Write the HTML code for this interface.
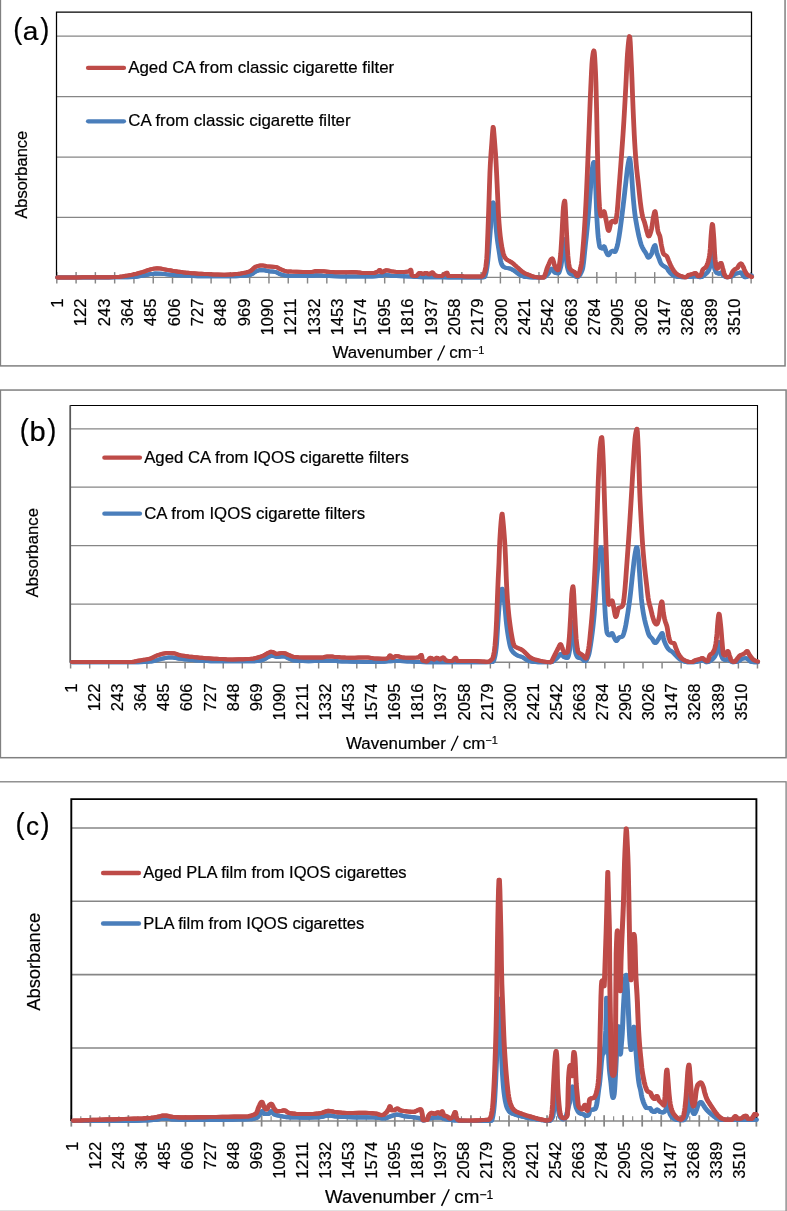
<!DOCTYPE html>
<html><head><meta charset="utf-8"><title>FTIR spectra</title>
<style>
html,body{margin:0;padding:0;background:#fff;}
svg{display:block;will-change:transform;}
text{font-family:"Liberation Sans",sans-serif;fill:#000;stroke:#000;stroke-width:0.2px;}
</style></head>
<body>
<svg width="787" height="1211" viewBox="0 0 787 1211">

<rect x="0.40" y="-5.00" width="784.65" height="370.90" fill="#fff" stroke="#808080" stroke-width="1.50"/>
<line x1="56.50" x2="751.50" y1="36.20" y2="36.20" stroke="#868686" stroke-width="1.25"/>
<line x1="56.50" x2="751.50" y1="96.60" y2="96.60" stroke="#868686" stroke-width="1.25"/>
<line x1="56.50" x2="751.50" y1="157.00" y2="157.00" stroke="#868686" stroke-width="1.25"/>
<line x1="56.50" x2="751.50" y1="217.30" y2="217.30" stroke="#868686" stroke-width="1.25"/>
<line x1="56.50" x2="751.50" y1="277.40" y2="277.40" stroke="#868686" stroke-width="1.35"/>
<line x1="56.80" x2="56.80" y1="272.10" y2="283.50" stroke="#868686" stroke-width="1.45"/>
<line x1="76.09" x2="76.09" y1="272.10" y2="283.50" stroke="#868686" stroke-width="1.45"/>
<line x1="95.37" x2="95.37" y1="272.10" y2="283.50" stroke="#868686" stroke-width="1.45"/>
<line x1="114.66" x2="114.66" y1="272.10" y2="283.50" stroke="#868686" stroke-width="1.45"/>
<line x1="133.95" x2="133.95" y1="272.10" y2="283.50" stroke="#868686" stroke-width="1.45"/>
<line x1="153.24" x2="153.24" y1="272.10" y2="283.50" stroke="#868686" stroke-width="1.45"/>
<line x1="172.52" x2="172.52" y1="272.10" y2="283.50" stroke="#868686" stroke-width="1.45"/>
<line x1="191.81" x2="191.81" y1="272.10" y2="283.50" stroke="#868686" stroke-width="1.45"/>
<line x1="211.10" x2="211.10" y1="272.10" y2="283.50" stroke="#868686" stroke-width="1.45"/>
<line x1="230.38" x2="230.38" y1="272.10" y2="283.50" stroke="#868686" stroke-width="1.45"/>
<line x1="249.67" x2="249.67" y1="272.10" y2="283.50" stroke="#868686" stroke-width="1.45"/>
<line x1="268.96" x2="268.96" y1="272.10" y2="283.50" stroke="#868686" stroke-width="1.45"/>
<line x1="288.24" x2="288.24" y1="272.10" y2="283.50" stroke="#868686" stroke-width="1.45"/>
<line x1="307.53" x2="307.53" y1="272.10" y2="283.50" stroke="#868686" stroke-width="1.45"/>
<line x1="326.82" x2="326.82" y1="272.10" y2="283.50" stroke="#868686" stroke-width="1.45"/>
<line x1="346.11" x2="346.11" y1="272.10" y2="283.50" stroke="#868686" stroke-width="1.45"/>
<line x1="365.39" x2="365.39" y1="272.10" y2="283.50" stroke="#868686" stroke-width="1.45"/>
<line x1="384.68" x2="384.68" y1="272.10" y2="283.50" stroke="#868686" stroke-width="1.45"/>
<line x1="403.97" x2="403.97" y1="272.10" y2="283.50" stroke="#868686" stroke-width="1.45"/>
<line x1="423.25" x2="423.25" y1="272.10" y2="283.50" stroke="#868686" stroke-width="1.45"/>
<line x1="442.54" x2="442.54" y1="272.10" y2="283.50" stroke="#868686" stroke-width="1.45"/>
<line x1="461.83" x2="461.83" y1="272.10" y2="283.50" stroke="#868686" stroke-width="1.45"/>
<line x1="481.11" x2="481.11" y1="272.10" y2="283.50" stroke="#868686" stroke-width="1.45"/>
<line x1="500.40" x2="500.40" y1="272.10" y2="283.50" stroke="#868686" stroke-width="1.45"/>
<line x1="519.69" x2="519.69" y1="272.10" y2="283.50" stroke="#868686" stroke-width="1.45"/>
<line x1="538.97" x2="538.97" y1="272.10" y2="283.50" stroke="#868686" stroke-width="1.45"/>
<line x1="558.26" x2="558.26" y1="272.10" y2="283.50" stroke="#868686" stroke-width="1.45"/>
<line x1="577.55" x2="577.55" y1="272.10" y2="283.50" stroke="#868686" stroke-width="1.45"/>
<line x1="596.84" x2="596.84" y1="272.10" y2="283.50" stroke="#868686" stroke-width="1.45"/>
<line x1="616.12" x2="616.12" y1="272.10" y2="283.50" stroke="#868686" stroke-width="1.45"/>
<line x1="635.41" x2="635.41" y1="272.10" y2="283.50" stroke="#868686" stroke-width="1.45"/>
<line x1="654.70" x2="654.70" y1="272.10" y2="283.50" stroke="#868686" stroke-width="1.45"/>
<line x1="673.98" x2="673.98" y1="272.10" y2="283.50" stroke="#868686" stroke-width="1.45"/>
<line x1="693.27" x2="693.27" y1="272.10" y2="283.50" stroke="#868686" stroke-width="1.45"/>
<line x1="712.56" x2="712.56" y1="272.10" y2="283.50" stroke="#868686" stroke-width="1.45"/>
<line x1="731.84" x2="731.84" y1="272.10" y2="283.50" stroke="#868686" stroke-width="1.45"/>
<line x1="751.13" x2="751.13" y1="272.10" y2="283.50" stroke="#868686" stroke-width="1.45"/>
<path d="M56.50,277.40 L56.50,12.00 L751.50,12.00 L751.50,277.40" fill="none" stroke="#000" stroke-width="1.25"/>
<g fill="none" stroke="#4A7EBB" stroke-width="4.00" stroke-linejoin="round" stroke-linecap="round"><path id="ablue" d="M57.5,277.4 L63.9,277.4 L70.3,277.4 L76.7,277.4 L83.1,277.4 L89.5,277.4 L95.9,277.4 L102.3,277.4 L108.7,277.4 L115.1,277.3 L121.5,277.3 L127.9,277.3 L133.9,277.1 L135.5,276.9 L136.7,276.8 L137.9,276.6 L139.1,276.4 L140.3,276.1 L141.5,275.9 L142.7,275.7 L143.5,275.6 L144.3,275.4 L145.1,275.2 L145.9,275.0 L146.7,274.8 L147.5,274.7 L148.3,274.5 L149.1,274.3 L150.3,274.1 L151.9,273.9 L153.5,273.8 L155.1,273.6 L161.5,273.7 L163.1,273.9 L164.7,274.1 L166.3,274.3 L168.3,274.5 L170.3,274.7 L172.3,274.8 L174.3,275.0 L176.3,275.2 L178.7,275.3 L181.1,275.5 L183.9,275.6 L186.7,275.8 L189.5,275.9 L192.7,276.1 L197.5,276.3 L203.9,276.3 L210.3,276.3 L216.7,276.3 L223.1,276.3 L229.5,276.3 L235.9,276.2 L239.9,276.0 L242.7,275.8 L244.7,275.7 L246.3,275.5 L247.5,275.3 L248.7,275.1 L249.9,274.9 L250.7,274.7 L251.1,274.5 L251.5,274.3 L251.9,274.1 L252.3,273.8 L252.7,273.6 L253.1,273.3 L253.5,273.0 L253.9,272.7 L254.3,272.4 L254.7,272.2 L255.1,271.9 L255.5,271.7 L255.9,271.5 L256.3,271.3 L256.7,271.1 L257.1,271.0 L257.5,270.8 L257.9,270.7 L258.7,270.4 L259.5,270.2 L260.3,270.0 L263.9,270.2 L264.7,270.3 L265.5,270.5 L266.3,270.7 L267.1,270.9 L267.9,271.0 L269.1,271.2 L270.7,271.4 L272.3,271.5 L273.9,271.7 L275.1,271.9 L275.9,272.1 L276.3,272.2 L276.7,272.4 L277.1,272.6 L277.5,272.8 L277.9,273.0 L278.3,273.3 L278.7,273.5 L279.1,273.7 L279.5,273.9 L279.9,274.1 L280.3,274.3 L281.1,274.5 L281.9,274.7 L282.7,274.9 L283.5,275.1 L284.3,275.3 L285.1,275.4 L286.3,275.6 L287.9,275.8 L294.3,275.9 L300.7,276.0 L307.1,276.0 L313.1,275.8 L313.9,275.7 L314.7,275.5 L315.9,275.3 L320.7,275.5 L321.9,275.6 L323.1,275.8 L324.7,276.0 L329.1,276.1 L334.7,276.3 L341.1,276.4 L347.5,276.5 L353.9,276.6 L360.3,276.6 L366.7,276.6 L372.3,276.4 L375.9,276.2 L378.7,276.1 L381.1,275.9 L381.9,275.7 L382.7,275.5 L383.5,275.3 L384.3,275.1 L385.1,274.9 L388.7,275.2 L389.5,275.4 L390.3,275.6 L391.1,275.8 L392.3,276.0 L396.3,276.1 L402.7,276.3 L409.1,276.4 L411.5,276.6 L413.5,276.8 L415.1,276.9 L417.1,277.1 L423.5,277.2 L429.9,277.3 L436.3,277.3 L442.7,277.3 L449.1,277.4 L455.5,277.4 L461.9,277.4 L468.3,277.4 L474.7,277.4 L481.1,277.4 L483.9,277.3 L484.3,277.1 L484.7,276.8 L485.1,275.9 L485.5,274.5 L485.9,273.0 L486.3,271.2 L486.7,269.0 L487.1,266.4 L487.5,263.5 L487.9,260.1 L488.3,255.9 L488.7,251.1 L489.1,245.9 L489.5,240.8 L489.9,235.9 L490.3,230.7 L490.7,225.6 L491.1,220.7 L491.5,216.2 L491.9,212.1 L492.3,208.4 L492.7,205.2 L493.1,202.5 L493.5,203.1 L493.9,206.0 L494.3,209.3 L494.7,213.3 L495.1,217.3 L495.5,221.3 L495.9,225.5 L496.3,229.7 L496.7,233.8 L497.1,237.5 L497.5,240.8 L497.9,243.7 L498.3,246.3 L498.7,248.8 L499.1,251.3 L499.5,253.8 L499.9,256.4 L500.3,259.0 L500.7,260.9 L501.1,262.5 L501.5,263.8 L501.9,264.7 L502.3,265.4 L502.7,266.0 L503.1,266.5 L503.5,266.8 L503.9,267.0 L504.3,267.2 L504.7,267.4 L505.5,267.7 L506.3,267.9 L507.5,268.1 L508.7,268.3 L509.5,268.4 L510.3,268.7 L510.7,268.8 L511.1,269.0 L511.5,269.2 L511.9,269.4 L512.3,269.6 L512.7,269.8 L513.1,270.1 L513.5,270.3 L513.9,270.5 L514.3,270.8 L514.7,271.1 L515.1,271.4 L515.5,271.7 L515.9,272.0 L516.3,272.3 L516.7,272.6 L517.1,272.8 L517.5,273.1 L517.9,273.4 L518.3,273.8 L518.7,274.1 L519.1,274.4 L519.5,274.7 L519.9,274.9 L520.3,275.2 L520.7,275.3 L521.1,275.5 L521.5,275.7 L521.9,275.9 L522.3,276.0 L522.7,276.2 L523.5,276.5 L524.3,276.7 L525.1,276.9 L526.7,277.1 L529.1,277.2 L533.1,277.4 L539.5,277.4 L544.3,277.2 L544.7,277.0 L545.1,276.8 L545.5,276.5 L545.9,276.1 L546.3,275.7 L546.7,275.3 L547.1,274.9 L547.5,274.5 L547.9,274.1 L548.3,273.6 L548.7,273.0 L549.1,272.3 L549.5,271.6 L549.9,270.8 L550.3,270.1 L550.7,269.5 L551.1,269.1 L551.5,268.8 L551.9,268.7 L552.3,268.9 L552.7,269.4 L553.1,270.0 L553.5,270.8 L553.9,271.4 L554.3,272.1 L554.7,272.5 L555.1,272.7 L555.5,272.8 L556.3,273.1 L557.1,273.3 L558.3,273.3 L558.7,272.9 L559.1,272.2 L559.5,271.2 L559.9,269.9 L560.3,268.5 L560.7,266.9 L561.1,265.2 L561.5,262.7 L561.9,258.6 L562.3,253.9 L562.7,249.8 L563.1,246.7 L563.5,243.5 L563.9,240.8 L564.3,239.2 L564.7,239.5 L565.1,243.2 L565.5,248.9 L565.9,254.7 L566.3,258.9 L566.7,262.3 L567.1,265.3 L567.5,267.6 L567.9,269.1 L568.3,270.4 L568.7,271.5 L569.1,272.4 L569.5,273.1 L569.9,273.5 L570.3,273.8 L570.7,274.0 L571.1,274.2 L571.5,274.3 L572.3,274.6 L572.7,274.8 L573.1,274.9 L573.5,275.2 L573.9,275.4 L574.3,275.6 L574.7,275.9 L575.1,276.1 L575.5,276.4 L575.9,276.6 L576.3,276.8 L577.1,277.0 L577.9,276.9 L578.3,276.7 L578.7,276.4 L579.1,276.0 L579.5,275.5 L579.9,274.9 L580.3,274.2 L580.7,273.4 L581.1,272.6 L581.5,271.7 L581.9,270.7 L582.3,269.7 L582.7,268.2 L583.1,265.8 L583.5,262.9 L583.9,259.4 L584.3,255.6 L584.7,251.6 L585.1,247.7 L585.5,243.9 L585.9,240.3 L586.3,236.7 L586.7,232.9 L587.1,229.0 L587.5,224.9 L587.9,220.7 L588.3,216.2 L588.7,211.4 L589.1,206.5 L589.5,201.4 L589.9,196.4 L590.3,191.3 L590.7,185.8 L591.1,180.2 L591.5,175.3 L591.9,171.6 L592.3,168.8 L592.7,166.2 L593.1,164.0 L593.5,162.6 L593.9,162.0 L594.3,163.9 L594.7,168.8 L595.1,175.7 L595.5,183.4 L595.9,191.7 L596.3,203.2 L596.7,214.1 L597.1,221.6 L597.5,228.1 L597.9,233.5 L598.3,237.7 L598.7,240.7 L599.1,243.5 L599.5,245.7 L599.9,247.1 L600.3,247.6 L600.7,247.9 L601.1,248.1 L601.5,248.3 L602.3,248.5 L602.7,248.3 L603.1,247.5 L603.5,246.7 L603.9,246.3 L604.3,246.6 L604.7,247.5 L605.1,248.7 L605.5,250.0 L605.9,251.2 L606.3,252.1 L606.7,252.9 L607.1,253.7 L607.5,254.4 L607.9,254.9 L608.3,255.2 L608.7,255.1 L609.1,254.6 L609.5,253.9 L609.9,253.2 L610.3,252.5 L610.7,252.0 L611.1,251.7 L611.5,251.4 L611.9,251.2 L612.3,251.0 L613.1,250.8 L613.5,251.0 L613.9,251.3 L614.3,251.7 L614.7,251.9 L615.1,251.8 L615.5,251.2 L615.9,250.3 L616.3,249.2 L616.7,248.0 L617.1,246.7 L617.5,245.1 L617.9,243.2 L618.3,241.0 L618.7,238.7 L619.1,236.3 L619.5,233.8 L619.9,231.1 L620.3,228.2 L620.7,225.3 L621.1,222.2 L621.5,219.2 L621.9,216.0 L622.3,212.8 L622.7,209.5 L623.1,206.2 L623.5,202.8 L623.9,199.4 L624.3,195.9 L624.7,192.4 L625.1,188.8 L625.5,185.4 L625.9,182.0 L626.3,178.4 L626.7,174.8 L627.1,171.3 L627.5,168.1 L627.9,165.5 L628.3,163.2 L628.7,161.0 L629.1,159.2 L629.5,158.2 L629.9,158.9 L630.3,161.5 L630.7,165.3 L631.1,169.5 L631.5,173.8 L631.9,179.1 L632.3,185.0 L632.7,190.9 L633.1,196.1 L633.5,200.6 L633.9,204.9 L634.3,208.9 L634.7,212.4 L635.1,215.5 L635.5,218.2 L635.9,220.6 L636.3,222.9 L636.7,225.1 L637.1,227.3 L637.5,229.4 L637.9,231.4 L638.3,233.4 L638.7,235.2 L639.1,237.0 L639.5,238.6 L639.9,240.2 L640.3,241.7 L640.7,243.1 L641.1,244.4 L641.5,245.5 L641.9,246.4 L642.3,247.3 L642.7,248.1 L643.1,248.8 L643.5,249.5 L643.9,250.2 L644.3,250.8 L644.7,251.4 L645.1,252.0 L645.5,252.5 L645.9,253.2 L646.3,253.9 L646.7,254.8 L647.1,255.7 L647.5,256.5 L647.9,257.1 L648.3,257.5 L648.7,257.5 L649.1,257.3 L649.5,257.0 L649.9,256.5 L650.3,255.9 L650.7,255.3 L651.1,254.6 L651.5,253.9 L651.9,252.9 L652.3,251.6 L652.7,250.1 L653.1,248.7 L653.5,247.6 L653.9,246.8 L654.3,245.9 L654.7,245.4 L655.1,245.3 L655.5,246.6 L655.9,248.8 L656.3,251.1 L656.7,252.6 L657.1,253.7 L657.5,254.8 L657.9,255.8 L658.3,256.8 L658.7,257.8 L659.1,258.8 L659.5,259.9 L659.9,261.0 L660.3,262.0 L660.7,262.9 L661.1,263.7 L661.5,264.2 L661.9,264.6 L662.3,265.0 L662.7,265.3 L663.1,265.6 L663.5,265.9 L663.9,266.1 L664.3,266.4 L664.7,266.7 L665.1,266.9 L665.5,267.1 L665.9,267.4 L666.3,267.6 L666.7,267.9 L667.1,268.3 L667.5,268.9 L667.9,269.6 L668.3,270.4 L668.7,271.1 L669.1,271.6 L669.5,272.1 L669.9,272.6 L670.3,273.0 L670.7,273.4 L671.1,273.8 L671.5,274.2 L671.9,274.5 L672.3,274.8 L672.7,275.1 L673.1,275.3 L673.5,275.5 L673.9,275.7 L674.3,275.9 L674.7,276.0 L675.1,276.2 L675.5,276.4 L676.3,276.6 L677.1,276.8 L678.3,277.0 L679.9,277.1 L682.7,277.3 L687.9,277.1 L689.9,276.9 L691.5,276.8 L692.7,276.5 L693.9,276.3 L697.5,276.6 L698.3,276.8 L699.1,277.1 L699.9,277.2 L701.5,277.1 L701.9,276.9 L702.3,276.6 L702.7,276.4 L703.1,276.0 L703.5,275.7 L703.9,275.4 L704.3,275.1 L704.7,274.8 L705.1,274.5 L705.5,274.2 L705.9,273.8 L706.3,273.5 L706.7,273.1 L707.1,272.7 L707.5,272.2 L707.9,271.6 L708.3,271.0 L708.7,270.2 L709.1,269.2 L709.5,268.0 L709.9,266.7 L710.3,265.1 L710.7,263.5 L711.1,261.0 L711.5,257.5 L711.9,254.4 L712.3,252.6 L712.7,253.2 L713.1,255.9 L713.5,259.7 L713.9,263.8 L714.3,267.1 L714.7,268.9 L715.1,270.0 L715.5,270.9 L715.9,271.7 L716.3,272.4 L716.7,272.8 L717.1,273.1 L717.5,273.3 L718.3,273.5 L719.1,273.7 L719.9,273.6 L720.3,273.3 L720.7,272.9 L721.1,272.5 L721.5,272.4 L721.9,272.7 L722.3,273.5 L722.7,274.4 L723.1,275.2 L723.5,275.7 L723.9,276.0 L724.3,276.2 L724.7,276.5 L725.1,276.7 L725.5,276.9 L725.9,277.0 L726.7,277.2 L729.5,277.0 L730.3,276.8 L731.1,276.6 L731.9,276.3 L732.3,276.2 L732.7,276.0 L733.1,275.7 L733.5,275.3 L733.9,274.9 L734.3,274.5 L734.7,274.2 L735.1,273.9 L735.5,273.7 L736.3,273.5 L737.5,273.3 L738.7,273.1 L739.1,273.0 L739.5,272.8 L739.9,272.7 L740.7,272.4 L741.1,272.4 L741.5,272.8 L741.9,273.4 L742.3,274.2 L742.7,275.0 L743.1,275.6 L743.5,276.1 L743.9,276.5 L744.3,276.9 L744.7,277.2 L746.7,276.9 L747.1,276.7 L747.5,276.6 L747.9,276.4 L748.3,276.3 L748.7,276.1 L749.1,275.9 L749.9,275.7 L751.6,275.6" transform="translate(-0.4,0)"/><use href="#ablue" x="0.8"/></g>
<g fill="none" stroke="#BE4B48" stroke-width="4.00" stroke-linejoin="round" stroke-linecap="round"><path id="ared" d="M57.5,277.4 L63.9,277.4 L70.3,277.4 L76.7,277.4 L83.1,277.3 L89.5,277.3 L95.9,277.3 L102.3,277.2 L108.7,277.2 L115.1,277.1 L117.9,276.9 L119.5,276.8 L121.1,276.6 L122.3,276.4 L123.5,276.2 L124.7,276.0 L125.9,275.8 L127.1,275.6 L128.3,275.4 L129.5,275.2 L130.7,275.0 L131.9,274.8 L132.7,274.6 L133.5,274.4 L134.3,274.2 L135.1,274.1 L135.9,273.9 L136.7,273.7 L137.5,273.4 L138.3,273.2 L139.1,273.0 L139.9,272.8 L140.7,272.6 L141.5,272.3 L142.3,272.1 L143.1,271.9 L143.9,271.6 L144.7,271.3 L145.5,271.0 L146.3,270.7 L147.1,270.5 L147.9,270.2 L148.7,269.9 L149.5,269.7 L150.3,269.5 L151.1,269.3 L151.9,269.1 L152.7,268.9 L153.5,268.7 L154.3,268.6 L155.5,268.4 L157.1,268.2 L159.9,268.4 L160.7,268.6 L161.5,268.7 L162.3,268.9 L163.1,269.1 L163.9,269.3 L165.1,269.5 L166.3,269.7 L167.5,269.9 L168.7,270.1 L169.9,270.3 L171.1,270.5 L172.3,270.8 L173.5,270.9 L174.7,271.1 L175.9,271.3 L177.1,271.5 L178.3,271.7 L179.5,271.8 L180.7,272.0 L181.9,272.1 L183.1,272.3 L184.7,272.5 L186.3,272.7 L187.9,272.8 L189.9,273.0 L191.9,273.2 L193.9,273.3 L196.3,273.5 L198.7,273.7 L201.5,273.8 L204.3,274.0 L207.5,274.1 L210.7,274.3 L213.9,274.5 L217.9,274.6 L224.3,274.7 L229.1,274.5 L231.9,274.4 L233.9,274.2 L235.9,274.0 L237.5,273.9 L239.1,273.7 L240.7,273.5 L241.9,273.3 L243.1,273.1 L243.9,273.0 L244.7,272.8 L245.5,272.6 L246.3,272.4 L247.1,272.2 L247.9,271.9 L248.7,271.7 L249.5,271.4 L249.9,271.2 L250.3,271.1 L250.7,270.8 L251.1,270.6 L251.5,270.3 L251.9,269.9 L252.3,269.5 L252.7,269.2 L253.1,268.8 L253.5,268.4 L253.9,268.0 L254.3,267.7 L254.7,267.3 L255.1,267.1 L255.5,266.8 L255.9,266.6 L256.7,266.4 L257.5,266.1 L258.3,265.9 L259.1,265.7 L260.3,265.5 L263.5,265.6 L264.7,265.8 L265.5,266.0 L266.3,266.2 L267.5,266.4 L269.1,266.5 L272.7,266.7 L275.5,266.9 L276.3,267.0 L276.7,267.2 L277.1,267.4 L277.5,267.6 L277.9,267.8 L278.3,268.0 L278.7,268.2 L279.1,268.5 L279.5,268.7 L279.9,268.9 L280.3,269.1 L280.7,269.3 L281.1,269.5 L281.5,269.6 L281.9,269.8 L282.3,270.0 L282.7,270.1 L283.1,270.3 L283.5,270.4 L283.9,270.6 L284.7,270.9 L285.5,271.1 L286.3,271.2 L288.3,271.4 L291.5,271.6 L296.7,271.7 L303.1,271.9 L309.5,272.0 L312.7,271.8 L313.5,271.6 L314.3,271.4 L315.1,271.2 L315.9,271.0 L321.9,271.2 L323.5,271.3 L325.5,271.5 L327.9,271.7 L330.3,271.9 L332.7,272.0 L335.1,272.2 L338.3,272.3 L344.7,272.3 L348.3,272.2 L352.3,272.0 L356.7,272.2 L358.3,272.4 L359.5,272.5 L360.7,272.7 L361.9,272.9 L363.5,273.1 L369.9,273.1 L372.7,272.9 L374.7,272.7 L375.5,272.5 L376.3,272.3 L376.7,272.1 L377.1,271.9 L377.5,271.7 L377.9,271.5 L378.3,271.3 L378.7,270.9 L379.1,270.4 L379.5,270.0 L379.9,270.0 L380.3,270.7 L380.7,271.6 L381.1,272.3 L382.3,272.2 L382.7,272.0 L383.1,271.8 L383.5,271.6 L383.9,271.3 L384.3,271.1 L384.7,270.8 L385.1,270.6 L385.5,270.5 L386.3,270.3 L387.9,270.5 L388.7,270.6 L389.5,270.8 L390.3,271.1 L391.1,271.3 L391.9,271.4 L393.5,271.6 L395.5,271.8 L397.9,271.9 L404.3,271.9 L406.7,271.7 L408.3,271.6 L409.1,271.4 L409.5,271.0 L409.9,270.5 L410.3,270.1 L410.7,269.9 L411.1,270.7 L411.5,273.3 L411.9,275.3 L412.3,275.5 L413.1,275.7 L414.3,275.9 L416.3,275.9 L416.7,275.7 L417.1,275.3 L417.5,274.9 L417.9,274.5 L418.3,274.0 L418.7,273.6 L419.1,273.2 L419.5,272.9 L420.7,273.0 L421.1,273.2 L421.5,273.4 L421.9,273.6 L422.3,273.8 L423.1,274.0 L423.5,273.9 L423.9,273.8 L424.3,273.5 L424.7,273.3 L425.1,273.1 L425.5,272.9 L426.7,273.0 L427.1,273.2 L427.5,273.5 L427.9,273.8 L428.3,274.1 L428.7,274.3 L429.5,274.3 L429.9,274.1 L430.3,273.7 L430.7,273.4 L431.1,273.0 L431.5,272.7 L431.9,272.5 L432.3,272.4 L432.7,272.6 L433.1,273.0 L433.5,273.5 L433.9,274.1 L434.3,274.7 L434.7,275.1 L435.1,275.4 L435.9,275.5 L437.1,275.7 L438.7,275.9 L441.9,275.9 L442.3,275.7 L442.7,275.4 L443.1,275.1 L443.5,274.8 L443.9,274.5 L444.3,274.1 L444.7,273.8 L445.1,273.6 L445.5,273.4 L445.9,273.2 L446.3,273.0 L447.1,272.8 L447.5,273.7 L447.9,275.1 L448.3,276.0 L454.7,276.0 L461.1,276.1 L463.5,276.3 L467.9,276.5 L474.3,276.6 L480.7,276.6 L481.5,276.6 L481.9,276.4 L482.3,276.1 L482.7,275.8 L483.1,275.4 L483.5,274.7 L483.9,273.8 L484.3,272.8 L484.7,271.7 L485.1,270.5 L485.5,268.8 L485.9,266.2 L486.3,262.8 L486.7,258.7 L487.1,252.5 L487.5,242.2 L487.9,232.0 L488.3,221.4 L488.7,210.1 L489.1,198.0 L489.5,185.4 L489.9,173.4 L490.3,164.9 L490.7,158.0 L491.1,152.2 L491.5,147.1 L491.9,141.6 L492.3,135.8 L492.7,131.0 L493.1,127.0 L493.5,128.4 L493.9,133.2 L494.3,138.0 L494.7,143.2 L495.1,148.3 L495.5,153.5 L495.9,159.7 L496.3,167.2 L496.7,175.3 L497.1,184.0 L497.5,192.8 L497.9,201.8 L498.3,210.9 L498.7,218.0 L499.1,223.6 L499.5,228.5 L499.9,232.8 L500.3,236.5 L500.7,239.6 L501.1,242.3 L501.5,244.9 L501.9,247.2 L502.3,249.2 L502.7,251.1 L503.1,252.7 L503.5,254.1 L503.9,255.3 L504.3,256.3 L504.7,257.1 L505.1,257.8 L505.5,258.3 L505.9,258.8 L506.3,259.2 L506.7,259.5 L507.1,259.8 L507.5,260.1 L507.9,260.3 L508.3,260.5 L508.7,260.7 L509.1,260.9 L509.5,261.2 L509.9,261.4 L510.3,261.6 L510.7,261.9 L511.1,262.1 L511.5,262.4 L511.9,262.6 L512.3,262.9 L512.7,263.2 L513.1,263.5 L513.5,263.9 L513.9,264.2 L514.3,264.6 L514.7,265.0 L515.1,265.3 L515.5,265.7 L515.9,266.0 L516.3,266.4 L516.7,266.8 L517.1,267.2 L517.5,267.5 L517.9,267.9 L518.3,268.2 L518.7,268.6 L519.1,268.9 L519.5,269.3 L519.9,269.6 L520.3,270.0 L520.7,270.3 L521.1,270.6 L521.5,271.0 L521.9,271.3 L522.3,271.6 L522.7,271.9 L523.1,272.2 L523.5,272.5 L523.9,272.7 L524.3,273.0 L524.7,273.2 L525.1,273.4 L525.5,273.5 L525.9,273.7 L526.3,273.9 L526.7,274.0 L527.1,274.2 L527.5,274.3 L528.3,274.6 L529.1,274.9 L529.5,275.1 L529.9,275.2 L530.3,275.4 L530.7,275.6 L531.1,275.7 L531.5,275.9 L531.9,276.0 L532.3,276.2 L533.1,276.5 L533.9,276.7 L534.7,276.9 L535.9,277.1 L537.5,277.3 L539.1,277.4 L541.5,277.6 L543.5,277.5 L543.9,277.1 L544.3,276.4 L544.7,275.6 L545.1,274.5 L545.5,273.3 L545.9,272.1 L546.3,270.8 L546.7,269.5 L547.1,268.3 L547.5,267.2 L547.9,266.3 L548.3,265.4 L548.7,264.5 L549.1,263.5 L549.5,262.6 L549.9,261.6 L550.3,260.8 L550.7,260.0 L551.1,259.3 L551.5,258.9 L551.9,258.6 L552.3,258.5 L552.7,259.1 L553.1,260.2 L553.5,261.6 L553.9,263.2 L554.3,264.7 L554.7,265.9 L555.1,266.7 L555.5,267.4 L555.9,268.1 L556.3,268.7 L556.7,269.3 L557.1,269.7 L557.5,270.0 L557.9,270.2 L558.3,269.9 L558.7,268.7 L559.1,266.6 L559.5,264.0 L559.9,261.0 L560.3,257.7 L560.7,253.8 L561.1,248.3 L561.5,241.8 L561.9,235.0 L562.3,227.9 L562.7,219.5 L563.1,211.7 L563.5,206.7 L563.9,203.8 L564.3,201.7 L564.7,200.8 L565.1,203.6 L565.5,210.5 L565.9,219.4 L566.3,228.2 L566.7,235.5 L567.1,243.1 L567.5,250.2 L567.9,255.9 L568.3,259.9 L568.7,263.3 L569.1,266.0 L569.5,267.8 L569.9,268.5 L570.3,269.1 L570.7,269.6 L571.1,270.0 L571.5,270.3 L571.9,270.6 L572.3,270.9 L572.7,271.1 L573.1,271.3 L573.5,271.5 L573.9,271.7 L574.3,271.9 L574.7,272.2 L575.1,272.7 L575.5,273.4 L575.9,274.2 L576.3,274.9 L576.7,275.5 L577.1,275.9 L577.5,276.0 L577.9,275.8 L578.3,275.2 L578.7,274.5 L579.1,273.4 L579.5,272.2 L579.9,270.8 L580.3,269.2 L580.7,267.6 L581.1,265.8 L581.5,263.6 L581.9,260.3 L582.3,256.2 L582.7,251.6 L583.1,246.7 L583.5,241.8 L583.9,236.5 L584.3,230.8 L584.7,224.7 L585.1,218.1 L585.5,211.3 L585.9,203.9 L586.3,195.9 L586.7,187.3 L587.1,178.4 L587.5,169.1 L587.9,159.3 L588.3,149.2 L588.7,139.0 L589.1,129.0 L589.5,118.7 L589.9,108.3 L590.3,98.3 L590.7,89.0 L591.1,80.4 L591.5,71.9 L591.9,64.5 L592.3,59.5 L592.7,56.2 L593.1,53.4 L593.5,51.4 L593.9,50.7 L594.3,52.5 L594.7,57.2 L595.1,64.0 L595.5,72.0 L595.9,82.0 L596.3,96.8 L596.7,113.6 L597.1,134.3 L597.5,153.8 L597.9,169.1 L598.3,182.1 L598.7,191.7 L599.1,199.9 L599.5,206.4 L599.9,210.2 L600.3,213.0 L600.7,215.1 L601.1,216.2 L601.5,216.0 L601.9,215.4 L602.3,214.4 L602.7,213.3 L603.1,212.3 L603.5,211.6 L603.9,211.3 L604.3,211.8 L604.7,213.2 L605.1,215.1 L605.5,217.2 L605.9,219.3 L606.3,221.1 L606.7,223.1 L607.1,225.3 L607.5,227.5 L607.9,229.2 L608.3,230.4 L608.7,230.7 L609.1,230.0 L609.5,228.6 L609.9,226.8 L610.3,224.9 L610.7,223.2 L611.1,222.1 L611.5,221.6 L611.9,221.3 L612.3,221.1 L612.7,220.9 L613.5,220.7 L613.9,220.9 L614.3,221.5 L614.7,222.0 L615.1,222.4 L615.5,222.3 L615.9,220.8 L616.3,218.4 L616.7,215.5 L617.1,212.4 L617.5,208.3 L617.9,203.4 L618.3,198.0 L618.7,192.5 L619.1,187.2 L619.5,182.1 L619.9,176.9 L620.3,171.7 L620.7,166.3 L621.1,160.9 L621.5,155.5 L621.9,150.0 L622.3,144.5 L622.7,138.9 L623.1,133.1 L623.5,127.0 L623.9,120.6 L624.3,113.8 L624.7,106.8 L625.1,99.7 L625.5,92.4 L625.9,85.0 L626.3,76.8 L626.7,68.2 L627.1,60.1 L627.5,53.7 L627.9,49.0 L628.3,44.5 L628.7,40.6 L629.1,37.8 L629.5,36.4 L629.9,37.7 L630.3,43.0 L630.7,50.8 L631.1,59.4 L631.5,67.7 L631.9,77.5 L632.3,88.4 L632.7,99.3 L633.1,109.2 L633.5,118.3 L633.9,127.1 L634.3,135.3 L634.7,142.6 L635.1,149.0 L635.5,154.9 L635.9,160.2 L636.3,164.9 L636.7,169.1 L637.1,172.9 L637.5,176.4 L637.9,179.8 L638.3,183.2 L638.7,186.9 L639.1,190.7 L639.5,194.6 L639.9,198.4 L640.3,201.9 L640.7,205.1 L641.1,208.0 L641.5,210.7 L641.9,213.2 L642.3,215.3 L642.7,217.0 L643.1,218.3 L643.5,219.5 L643.9,220.5 L644.3,221.6 L644.7,222.9 L645.1,224.4 L645.5,226.0 L645.9,227.6 L646.3,229.3 L646.7,230.8 L647.1,232.1 L647.5,233.5 L647.9,234.9 L648.3,235.9 L648.7,236.3 L649.1,236.1 L649.5,235.5 L649.9,234.6 L650.3,233.4 L650.7,232.1 L651.1,230.7 L651.5,229.2 L651.9,227.2 L652.3,224.5 L652.7,221.7 L653.1,218.9 L653.5,216.7 L653.9,214.8 L654.3,213.0 L654.7,211.7 L655.1,211.4 L655.5,213.0 L655.9,216.0 L656.3,219.3 L656.7,222.1 L657.1,225.2 L657.5,228.3 L657.9,230.9 L658.3,232.5 L658.7,233.5 L659.1,234.3 L659.5,235.1 L659.9,236.3 L660.3,238.3 L660.7,240.9 L661.1,243.5 L661.5,245.7 L661.9,247.6 L662.3,249.5 L662.7,251.3 L663.1,252.8 L663.5,253.8 L663.9,254.3 L664.3,254.7 L664.7,254.9 L665.1,255.1 L665.5,255.3 L665.9,255.5 L666.3,255.8 L666.7,256.2 L667.1,256.9 L667.5,257.7 L667.9,258.7 L668.3,259.8 L668.7,260.8 L669.1,261.7 L669.5,262.6 L669.9,263.6 L670.3,264.5 L670.7,265.4 L671.1,266.2 L671.5,267.0 L671.9,267.7 L672.3,268.4 L672.7,269.1 L673.1,269.7 L673.5,270.3 L673.9,270.9 L674.3,271.4 L674.7,271.9 L675.1,272.3 L675.5,272.8 L675.9,273.2 L676.3,273.5 L676.7,273.9 L677.1,274.2 L677.5,274.5 L677.9,274.7 L678.3,275.0 L678.7,275.2 L679.1,275.3 L679.5,275.5 L679.9,275.7 L680.7,275.9 L681.5,276.2 L682.3,276.5 L683.1,276.7 L683.9,277.0 L684.7,277.2 L686.3,277.2 L686.7,276.9 L687.1,276.5 L687.5,275.9 L687.9,275.5 L688.3,275.1 L688.7,274.9 L689.5,274.7 L690.7,274.5 L691.5,274.3 L692.3,274.1 L692.7,274.0 L693.1,273.8 L693.5,273.6 L693.9,273.5 L694.7,273.2 L695.5,273.1 L695.9,273.3 L696.3,273.7 L696.7,274.3 L697.1,275.0 L697.5,275.6 L697.9,276.0 L698.3,276.2 L699.5,276.0 L699.9,275.9 L700.3,275.7 L700.7,275.5 L701.1,274.9 L701.5,273.8 L701.9,272.5 L702.3,271.2 L702.7,270.0 L703.1,269.3 L703.5,268.9 L703.9,268.6 L704.3,268.3 L704.7,268.1 L705.1,267.9 L705.5,267.5 L705.9,267.1 L706.3,266.4 L706.7,265.7 L707.1,264.8 L707.5,263.8 L707.9,262.6 L708.3,261.3 L708.7,259.8 L709.1,257.9 L709.5,255.5 L709.9,252.5 L710.3,248.4 L710.7,241.7 L711.1,235.6 L711.5,230.8 L711.9,226.5 L712.3,224.1 L712.7,225.0 L713.1,228.8 L713.5,234.0 L713.9,239.5 L714.3,247.0 L714.7,254.5 L715.1,259.2 L715.5,262.9 L715.9,265.7 L716.3,267.3 L716.7,268.0 L717.1,268.5 L717.5,268.6 L717.9,268.2 L718.3,267.5 L718.7,266.7 L719.1,265.9 L719.5,265.1 L719.9,264.2 L720.3,263.4 L720.7,263.0 L721.1,263.0 L721.5,263.8 L721.9,265.2 L722.3,266.8 L722.7,268.3 L723.1,269.6 L723.5,271.2 L723.9,272.8 L724.3,274.1 L724.7,275.0 L725.1,275.6 L725.5,276.1 L725.9,276.5 L726.3,276.9 L726.7,277.1 L727.5,277.3 L728.7,277.0 L729.1,276.9 L729.5,276.7 L729.9,276.5 L730.3,276.3 L730.7,275.9 L731.1,275.3 L731.5,274.4 L731.9,273.4 L732.3,272.5 L732.7,271.7 L733.1,271.1 L733.5,270.6 L733.9,270.2 L734.3,269.8 L734.7,269.4 L735.1,269.2 L735.5,269.0 L735.9,268.8 L736.3,268.6 L736.7,268.4 L737.1,268.2 L737.5,267.9 L737.9,267.3 L738.3,266.6 L738.7,265.7 L739.1,265.1 L739.5,264.6 L739.9,264.2 L740.3,263.8 L740.7,263.6 L741.1,263.5 L741.5,263.8 L741.9,264.4 L742.3,265.2 L742.7,265.9 L743.1,266.7 L743.5,267.5 L743.9,268.5 L744.3,269.5 L744.7,270.4 L745.1,271.2 L745.5,271.9 L745.9,272.7 L746.3,273.4 L746.7,274.0 L747.1,274.5 L747.5,274.9 L747.9,275.2 L748.3,275.4 L748.7,275.6 L749.1,275.8 L749.5,275.9 L749.9,276.1 L750.3,276.3 L750.7,276.5 L751.1,276.6 L751.5,276.8 L751.7,276.9" transform="translate(-0.4,0)"/><use href="#ared" x="0.8"/></g>
<text transform="translate(62.90,298.40) rotate(-90)" text-anchor="end" font-size="16.60" textLength="9.25" lengthAdjust="spacingAndGlyphs">1</text>
<text transform="translate(86.25,298.40) rotate(-90)" text-anchor="end" font-size="16.60" textLength="27.75" lengthAdjust="spacingAndGlyphs">122</text>
<text transform="translate(109.61,298.40) rotate(-90)" text-anchor="end" font-size="16.60" textLength="27.75" lengthAdjust="spacingAndGlyphs">243</text>
<text transform="translate(132.96,298.40) rotate(-90)" text-anchor="end" font-size="16.60" textLength="27.75" lengthAdjust="spacingAndGlyphs">364</text>
<text transform="translate(156.31,298.40) rotate(-90)" text-anchor="end" font-size="16.60" textLength="27.75" lengthAdjust="spacingAndGlyphs">485</text>
<text transform="translate(179.67,298.40) rotate(-90)" text-anchor="end" font-size="16.60" textLength="27.75" lengthAdjust="spacingAndGlyphs">606</text>
<text transform="translate(203.02,298.40) rotate(-90)" text-anchor="end" font-size="16.60" textLength="27.75" lengthAdjust="spacingAndGlyphs">727</text>
<text transform="translate(226.37,298.40) rotate(-90)" text-anchor="end" font-size="16.60" textLength="27.75" lengthAdjust="spacingAndGlyphs">848</text>
<text transform="translate(249.73,298.40) rotate(-90)" text-anchor="end" font-size="16.60" textLength="27.75" lengthAdjust="spacingAndGlyphs">969</text>
<text transform="translate(273.08,298.40) rotate(-90)" text-anchor="end" font-size="16.60" textLength="37.00" lengthAdjust="spacingAndGlyphs">1090</text>
<text transform="translate(296.43,298.40) rotate(-90)" text-anchor="end" font-size="16.60" textLength="37.00" lengthAdjust="spacingAndGlyphs">1211</text>
<text transform="translate(319.79,298.40) rotate(-90)" text-anchor="end" font-size="16.60" textLength="37.00" lengthAdjust="spacingAndGlyphs">1332</text>
<text transform="translate(343.14,298.40) rotate(-90)" text-anchor="end" font-size="16.60" textLength="37.00" lengthAdjust="spacingAndGlyphs">1453</text>
<text transform="translate(366.49,298.40) rotate(-90)" text-anchor="end" font-size="16.60" textLength="37.00" lengthAdjust="spacingAndGlyphs">1574</text>
<text transform="translate(389.85,298.40) rotate(-90)" text-anchor="end" font-size="16.60" textLength="37.00" lengthAdjust="spacingAndGlyphs">1695</text>
<text transform="translate(413.20,298.40) rotate(-90)" text-anchor="end" font-size="16.60" textLength="37.00" lengthAdjust="spacingAndGlyphs">1816</text>
<text transform="translate(436.55,298.40) rotate(-90)" text-anchor="end" font-size="16.60" textLength="37.00" lengthAdjust="spacingAndGlyphs">1937</text>
<text transform="translate(459.90,298.40) rotate(-90)" text-anchor="end" font-size="16.60" textLength="37.00" lengthAdjust="spacingAndGlyphs">2058</text>
<text transform="translate(483.26,298.40) rotate(-90)" text-anchor="end" font-size="16.60" textLength="37.00" lengthAdjust="spacingAndGlyphs">2179</text>
<text transform="translate(506.61,298.40) rotate(-90)" text-anchor="end" font-size="16.60" textLength="37.00" lengthAdjust="spacingAndGlyphs">2300</text>
<text transform="translate(529.96,298.40) rotate(-90)" text-anchor="end" font-size="16.60" textLength="37.00" lengthAdjust="spacingAndGlyphs">2421</text>
<text transform="translate(553.32,298.40) rotate(-90)" text-anchor="end" font-size="16.60" textLength="37.00" lengthAdjust="spacingAndGlyphs">2542</text>
<text transform="translate(576.67,298.40) rotate(-90)" text-anchor="end" font-size="16.60" textLength="37.00" lengthAdjust="spacingAndGlyphs">2663</text>
<text transform="translate(600.02,298.40) rotate(-90)" text-anchor="end" font-size="16.60" textLength="37.00" lengthAdjust="spacingAndGlyphs">2784</text>
<text transform="translate(623.38,298.40) rotate(-90)" text-anchor="end" font-size="16.60" textLength="37.00" lengthAdjust="spacingAndGlyphs">2905</text>
<text transform="translate(646.73,298.40) rotate(-90)" text-anchor="end" font-size="16.60" textLength="37.00" lengthAdjust="spacingAndGlyphs">3026</text>
<text transform="translate(670.08,298.40) rotate(-90)" text-anchor="end" font-size="16.60" textLength="37.00" lengthAdjust="spacingAndGlyphs">3147</text>
<text transform="translate(693.44,298.40) rotate(-90)" text-anchor="end" font-size="16.60" textLength="37.00" lengthAdjust="spacingAndGlyphs">3268</text>
<text transform="translate(716.79,298.40) rotate(-90)" text-anchor="end" font-size="16.60" textLength="37.00" lengthAdjust="spacingAndGlyphs">3389</text>
<text transform="translate(740.14,298.40) rotate(-90)" text-anchor="end" font-size="16.60" textLength="37.00" lengthAdjust="spacingAndGlyphs">3510</text>
<line x1="88.05" x2="123.95" y1="67.90" y2="67.90" stroke="#BE4B48" stroke-width="4.30" stroke-linecap="round"/>
<text x="128.20" y="72.80" font-size="16.40" textLength="266.00" lengthAdjust="spacingAndGlyphs">Aged CA from classic cigarette filter</text>
<line x1="88.05" x2="123.95" y1="121.30" y2="121.30" stroke="#4A7EBB" stroke-width="4.30" stroke-linecap="round"/>
<text x="128.20" y="126.20" font-size="16.40" textLength="222.40" lengthAdjust="spacingAndGlyphs">CA from classic cigarette filter</text>
<text x="13.30" y="38.70" font-size="29.70" textLength="9.10" lengthAdjust="spacingAndGlyphs">(</text>
<text x="22.80" y="39.50" font-size="25.50" textLength="15.60" lengthAdjust="spacingAndGlyphs">a</text>
<text x="40.30" y="38.70" font-size="29.70" textLength="9.10" lengthAdjust="spacingAndGlyphs">)</text>
<text transform="translate(26.70,218.70) rotate(-90)" font-size="16.80" textLength="87.90" lengthAdjust="spacingAndGlyphs">Absorbance</text>
<text x="332.50" y="358.20" font-size="15.80" textLength="99.90" lengthAdjust="spacingAndGlyphs">Wavenumber</text>
<line x1="437.70" y1="360.50" x2="444.60" y2="345.50" stroke="#000" stroke-width="1.35"/>
<text x="449.20" y="358.20" font-size="15.80" textLength="22.60" lengthAdjust="spacingAndGlyphs">cm</text>
<text x="472.00" y="354.00" font-size="11.30" textLength="12.40" lengthAdjust="spacingAndGlyphs">−1</text>
<rect x="0.40" y="390.05" width="785.70" height="367.65" fill="#fff" stroke="#808080" stroke-width="1.50"/>
<line x1="70.30" x2="757.50" y1="428.90" y2="428.90" stroke="#868686" stroke-width="1.25"/>
<line x1="70.30" x2="757.50" y1="487.20" y2="487.20" stroke="#868686" stroke-width="1.25"/>
<line x1="70.30" x2="757.50" y1="545.60" y2="545.60" stroke="#868686" stroke-width="1.25"/>
<line x1="70.30" x2="757.50" y1="604.20" y2="604.20" stroke="#868686" stroke-width="1.25"/>
<line x1="70.30" x2="757.50" y1="662.20" y2="662.20" stroke="#868686" stroke-width="1.35"/>
<line x1="70.60" x2="70.60" y1="662.20" y2="668.50" stroke="#868686" stroke-width="1.45"/>
<line x1="89.68" x2="89.68" y1="662.20" y2="668.50" stroke="#868686" stroke-width="1.45"/>
<line x1="108.76" x2="108.76" y1="662.20" y2="668.50" stroke="#868686" stroke-width="1.45"/>
<line x1="127.84" x2="127.84" y1="662.20" y2="668.50" stroke="#868686" stroke-width="1.45"/>
<line x1="146.92" x2="146.92" y1="662.20" y2="668.50" stroke="#868686" stroke-width="1.45"/>
<line x1="166.00" x2="166.00" y1="662.20" y2="668.50" stroke="#868686" stroke-width="1.45"/>
<line x1="185.08" x2="185.08" y1="662.20" y2="668.50" stroke="#868686" stroke-width="1.45"/>
<line x1="204.16" x2="204.16" y1="662.20" y2="668.50" stroke="#868686" stroke-width="1.45"/>
<line x1="223.24" x2="223.24" y1="662.20" y2="668.50" stroke="#868686" stroke-width="1.45"/>
<line x1="242.32" x2="242.32" y1="662.20" y2="668.50" stroke="#868686" stroke-width="1.45"/>
<line x1="261.40" x2="261.40" y1="662.20" y2="668.50" stroke="#868686" stroke-width="1.45"/>
<line x1="280.48" x2="280.48" y1="662.20" y2="668.50" stroke="#868686" stroke-width="1.45"/>
<line x1="299.56" x2="299.56" y1="662.20" y2="668.50" stroke="#868686" stroke-width="1.45"/>
<line x1="318.64" x2="318.64" y1="662.20" y2="668.50" stroke="#868686" stroke-width="1.45"/>
<line x1="337.72" x2="337.72" y1="662.20" y2="668.50" stroke="#868686" stroke-width="1.45"/>
<line x1="356.80" x2="356.80" y1="662.20" y2="668.50" stroke="#868686" stroke-width="1.45"/>
<line x1="375.88" x2="375.88" y1="662.20" y2="668.50" stroke="#868686" stroke-width="1.45"/>
<line x1="394.96" x2="394.96" y1="662.20" y2="668.50" stroke="#868686" stroke-width="1.45"/>
<line x1="414.04" x2="414.04" y1="662.20" y2="668.50" stroke="#868686" stroke-width="1.45"/>
<line x1="433.12" x2="433.12" y1="662.20" y2="668.50" stroke="#868686" stroke-width="1.45"/>
<line x1="452.20" x2="452.20" y1="662.20" y2="668.50" stroke="#868686" stroke-width="1.45"/>
<line x1="471.28" x2="471.28" y1="662.20" y2="668.50" stroke="#868686" stroke-width="1.45"/>
<line x1="490.36" x2="490.36" y1="662.20" y2="668.50" stroke="#868686" stroke-width="1.45"/>
<line x1="509.44" x2="509.44" y1="662.20" y2="668.50" stroke="#868686" stroke-width="1.45"/>
<line x1="528.52" x2="528.52" y1="662.20" y2="668.50" stroke="#868686" stroke-width="1.45"/>
<line x1="547.60" x2="547.60" y1="662.20" y2="668.50" stroke="#868686" stroke-width="1.45"/>
<line x1="566.68" x2="566.68" y1="662.20" y2="668.50" stroke="#868686" stroke-width="1.45"/>
<line x1="585.76" x2="585.76" y1="662.20" y2="668.50" stroke="#868686" stroke-width="1.45"/>
<line x1="604.84" x2="604.84" y1="662.20" y2="668.50" stroke="#868686" stroke-width="1.45"/>
<line x1="623.92" x2="623.92" y1="662.20" y2="668.50" stroke="#868686" stroke-width="1.45"/>
<line x1="643.00" x2="643.00" y1="662.20" y2="668.50" stroke="#868686" stroke-width="1.45"/>
<line x1="662.08" x2="662.08" y1="662.20" y2="668.50" stroke="#868686" stroke-width="1.45"/>
<line x1="681.16" x2="681.16" y1="662.20" y2="668.50" stroke="#868686" stroke-width="1.45"/>
<line x1="700.24" x2="700.24" y1="662.20" y2="668.50" stroke="#868686" stroke-width="1.45"/>
<line x1="719.32" x2="719.32" y1="662.20" y2="668.50" stroke="#868686" stroke-width="1.45"/>
<line x1="738.40" x2="738.40" y1="662.20" y2="668.50" stroke="#868686" stroke-width="1.45"/>
<line x1="757.48" x2="757.48" y1="662.20" y2="668.50" stroke="#868686" stroke-width="1.45"/>
<path d="M70.30,662.20 L70.30,405.50 L757.50,405.50 L757.50,662.20" fill="none" stroke="#000" stroke-width="1.10"/>
<line x1="70.30" x2="70.30" y1="405.50" y2="662.80" stroke="#595959" stroke-width="1.55"/>
<g fill="none" stroke="#4A7EBB" stroke-width="4.00" stroke-linejoin="round" stroke-linecap="round"><path id="bblue" d="M72.2,662.2 L78.2,662.2 L84.2,662.2 L90.2,662.2 L96.2,662.2 L102.2,662.2 L108.2,662.2 L114.2,662.2 L120.2,662.2 L126.2,662.2 L132.2,662.2 L138.2,662.2 L144.2,662.1 L146.6,661.9 L148.2,661.8 L149.8,661.6 L151.4,661.4 L152.6,661.3 L153.8,661.0 L154.6,660.8 L155.4,660.6 L156.2,660.4 L157.0,660.1 L157.8,659.9 L158.6,659.6 L159.4,659.4 L160.2,659.2 L161.0,659.0 L161.8,658.8 L162.6,658.6 L163.4,658.5 L164.2,658.3 L165.0,658.1 L165.8,657.9 L166.6,657.8 L167.8,657.6 L169.4,657.4 L173.0,657.6 L174.2,657.8 L175.4,658.0 L176.2,658.1 L177.0,658.3 L178.2,658.5 L179.4,658.7 L180.6,658.8 L182.2,659.0 L183.8,659.2 L185.4,659.4 L187.0,659.6 L188.6,659.7 L190.2,659.9 L192.2,660.1 L194.6,660.2 L197.0,660.4 L199.4,660.6 L201.8,660.7 L204.2,660.9 L207.0,661.0 L210.6,661.2 L216.6,661.3 L222.6,661.3 L228.6,661.3 L234.6,661.3 L240.6,661.3 L246.6,661.3 L252.6,661.3 L257.4,661.1 L258.6,660.9 L259.4,660.8 L260.2,660.6 L261.0,660.4 L261.8,660.2 L262.6,659.9 L263.4,659.7 L263.8,659.5 L264.2,659.3 L264.6,659.1 L265.0,658.9 L265.4,658.6 L265.8,658.4 L266.2,658.1 L266.6,657.9 L267.0,657.6 L267.4,657.4 L267.8,657.2 L268.2,657.0 L268.6,656.8 L269.0,656.7 L269.4,656.5 L269.8,656.3 L270.2,656.2 L271.0,655.9 L271.8,655.7 L273.8,656.0 L274.6,656.3 L275.0,656.4 L275.8,656.7 L276.6,656.9 L279.8,656.8 L281.0,656.6 L282.2,656.4 L285.0,656.6 L285.4,656.8 L285.8,657.0 L286.2,657.2 L286.6,657.4 L287.0,657.7 L287.4,657.9 L287.8,658.1 L288.2,658.3 L288.6,658.4 L289.0,658.6 L289.4,658.8 L289.8,659.0 L290.2,659.1 L290.6,659.3 L291.0,659.5 L291.4,659.7 L291.8,659.8 L292.2,660.0 L293.0,660.3 L293.8,660.5 L295.0,660.6 L297.0,660.8 L299.4,661.0 L302.6,661.1 L308.6,661.2 L314.6,661.0 L318.2,660.9 L321.8,660.7 L327.8,660.6 L332.2,660.8 L334.2,660.9 L336.2,661.1 L338.2,661.3 L341.8,661.4 L347.4,661.6 L353.4,661.7 L359.4,661.8 L365.4,661.9 L371.4,662.0 L377.4,662.0 L381.8,661.8 L384.2,661.7 L386.2,661.5 L388.2,661.3 L390.6,661.2 L394.2,661.0 L400.2,661.1 L404.2,661.3 L407.4,661.4 L410.2,661.6 L413.4,661.7 L417.0,661.9 L420.2,662.1 L426.2,662.2 L432.2,662.2 L438.2,662.2 L444.2,662.2 L450.2,662.2 L456.2,662.2 L462.2,662.2 L468.2,662.2 L474.2,662.2 L480.2,662.2 L486.2,662.2 L492.2,662.1 L493.0,661.8 L493.4,661.3 L493.8,660.3 L494.2,659.1 L494.6,657.6 L495.0,655.9 L495.4,653.6 L495.8,650.9 L496.2,647.8 L496.6,643.6 L497.0,637.6 L497.4,630.9 L497.8,624.6 L498.2,618.7 L498.6,612.8 L499.0,607.4 L499.4,603.2 L499.8,599.6 L500.2,596.5 L500.6,594.0 L501.0,592.1 L501.4,590.2 L501.8,589.0 L502.2,588.8 L502.6,589.8 L503.0,591.5 L503.4,593.5 L503.8,596.2 L504.2,599.6 L504.6,603.2 L505.0,607.1 L505.4,611.6 L505.8,616.3 L506.2,620.8 L506.6,624.6 L507.0,627.8 L507.4,630.7 L507.8,633.4 L508.2,636.0 L508.6,638.3 L509.0,640.5 L509.4,642.6 L509.8,644.5 L510.2,646.2 L510.6,647.5 L511.0,648.7 L511.4,649.6 L511.8,650.4 L512.2,651.1 L512.6,651.6 L513.0,652.1 L513.4,652.5 L513.8,652.9 L514.2,653.2 L514.6,653.6 L515.0,653.9 L515.4,654.2 L515.8,654.5 L516.2,654.7 L516.6,655.0 L517.0,655.2 L517.4,655.4 L517.8,655.6 L518.2,655.7 L518.6,655.9 L519.4,656.2 L520.2,656.4 L521.0,656.7 L521.8,657.0 L522.2,657.1 L522.6,657.3 L523.0,657.5 L523.4,657.7 L523.8,658.0 L524.2,658.3 L524.6,658.5 L525.0,658.8 L525.4,659.1 L525.8,659.4 L526.2,659.6 L526.6,659.8 L527.0,660.1 L527.4,660.2 L527.8,660.4 L528.2,660.6 L528.6,660.8 L529.0,660.9 L529.4,661.1 L530.2,661.4 L531.0,661.6 L532.2,661.8 L533.8,662.0 L535.4,662.1 L538.2,662.3 L544.2,662.3 L550.2,662.3 L551.8,662.1 L552.2,662.0 L552.6,661.7 L553.0,661.5 L553.4,661.2 L553.8,660.8 L554.2,660.5 L554.6,660.2 L555.0,659.8 L555.4,659.5 L555.8,659.2 L556.2,658.8 L556.6,658.4 L557.0,658.0 L557.4,657.6 L557.8,657.2 L558.2,656.8 L558.6,656.3 L559.0,655.9 L559.4,655.5 L559.8,655.0 L560.2,654.5 L560.6,654.1 L561.0,653.9 L561.4,654.0 L561.8,654.3 L562.2,654.8 L562.6,655.3 L563.0,655.9 L563.4,656.4 L563.8,656.8 L564.2,657.1 L564.6,657.3 L565.4,657.5 L566.2,657.8 L567.4,657.9 L567.8,657.6 L568.2,656.6 L568.6,655.2 L569.0,653.4 L569.4,651.3 L569.8,649.1 L570.2,645.9 L570.6,641.3 L571.0,636.3 L571.4,631.8 L571.8,628.4 L572.2,625.1 L572.6,622.7 L573.0,622.2 L573.4,626.4 L573.8,633.8 L574.2,641.2 L574.6,645.8 L575.0,648.9 L575.4,651.4 L575.8,653.3 L576.2,654.5 L576.6,655.5 L577.0,656.3 L577.4,657.0 L577.8,657.4 L578.2,657.6 L579.0,657.9 L579.8,658.0 L580.6,658.2 L581.4,658.4 L581.8,658.6 L582.2,658.9 L582.6,659.3 L583.0,659.7 L583.4,660.1 L583.8,660.5 L584.2,660.8 L584.6,661.1 L585.4,661.1 L585.8,660.9 L586.2,660.4 L586.6,659.8 L587.0,659.0 L587.4,658.2 L587.8,657.2 L588.2,656.2 L588.6,655.1 L589.0,653.7 L589.4,651.9 L589.8,649.7 L590.2,647.2 L590.6,644.6 L591.0,641.9 L591.4,639.1 L591.8,636.3 L592.2,633.3 L592.6,630.0 L593.0,626.6 L593.4,622.9 L593.8,618.9 L594.2,614.5 L594.6,609.2 L595.0,603.5 L595.4,597.5 L595.8,591.7 L596.2,586.3 L596.6,581.4 L597.0,576.4 L597.4,571.6 L597.8,567.2 L598.2,563.4 L598.6,560.3 L599.0,557.4 L599.4,554.6 L599.8,552.1 L600.2,549.9 L600.6,548.3 L601.0,547.4 L601.4,547.6 L601.8,549.9 L602.2,554.0 L602.6,559.1 L603.0,564.8 L603.4,573.9 L603.8,584.7 L604.2,593.7 L604.6,602.3 L605.0,610.1 L605.4,616.6 L605.8,621.6 L606.2,626.2 L606.6,630.0 L607.0,632.6 L607.4,633.6 L607.8,634.2 L608.2,634.7 L608.6,635.1 L609.0,635.3 L609.8,635.3 L610.2,634.9 L610.6,634.4 L611.0,633.9 L611.4,633.5 L611.8,633.2 L612.2,633.3 L612.6,633.8 L613.0,634.7 L613.4,635.7 L613.8,636.8 L614.2,637.6 L614.6,638.3 L615.0,639.1 L615.4,639.9 L615.8,640.5 L616.2,640.9 L616.6,640.9 L617.0,640.5 L617.4,639.9 L617.8,639.2 L618.2,638.6 L618.6,638.0 L619.0,637.6 L619.4,637.4 L620.2,637.2 L621.0,637.0 L621.8,636.8 L622.2,636.6 L622.6,636.2 L623.0,635.5 L623.4,634.5 L623.8,633.3 L624.2,632.0 L624.6,630.7 L625.0,629.1 L625.4,627.2 L625.8,625.2 L626.2,622.9 L626.6,620.5 L627.0,618.1 L627.4,615.7 L627.8,613.2 L628.2,610.6 L628.6,607.9 L629.0,605.1 L629.4,602.2 L629.8,599.2 L630.2,596.0 L630.6,592.6 L631.0,588.9 L631.4,585.1 L631.8,581.2 L632.2,577.3 L632.6,573.6 L633.0,570.2 L633.4,566.6 L633.8,563.1 L634.2,559.8 L634.6,556.9 L635.0,554.4 L635.4,552.2 L635.8,550.0 L636.2,548.2 L636.6,547.1 L637.0,547.3 L637.4,549.1 L637.8,552.2 L638.2,555.9 L638.6,559.8 L639.0,564.6 L639.4,570.4 L639.8,576.4 L640.2,582.1 L640.6,587.8 L641.0,593.4 L641.4,598.4 L641.8,602.2 L642.2,605.5 L642.6,608.5 L643.0,611.1 L643.4,613.5 L643.8,615.7 L644.2,617.7 L644.6,619.6 L645.0,621.3 L645.4,622.9 L645.8,624.4 L646.2,625.9 L646.6,627.3 L647.0,628.8 L647.4,630.3 L647.8,631.7 L648.2,633.0 L648.6,634.1 L649.0,635.0 L649.4,635.7 L649.8,636.3 L650.2,636.7 L650.6,637.2 L651.0,637.5 L651.4,637.9 L651.8,638.3 L652.2,638.8 L652.6,639.4 L653.0,640.1 L653.4,640.9 L653.8,641.6 L654.2,642.2 L654.6,642.7 L655.0,643.0 L655.4,643.0 L655.8,642.8 L656.2,642.4 L656.6,641.9 L657.0,641.3 L657.4,640.7 L657.8,640.1 L658.2,639.5 L658.6,638.9 L659.0,638.2 L659.4,637.5 L659.8,636.7 L660.2,636.0 L660.6,635.4 L661.0,634.7 L661.4,634.0 L661.8,633.4 L662.2,633.2 L662.6,633.9 L663.0,635.6 L663.4,637.7 L663.8,639.5 L664.2,640.7 L664.6,641.8 L665.0,642.8 L665.4,643.7 L665.8,644.6 L666.2,645.4 L666.6,646.2 L667.0,646.9 L667.4,647.6 L667.8,648.2 L668.2,648.8 L668.6,649.3 L669.0,649.7 L669.4,650.0 L669.8,650.3 L670.2,650.6 L670.6,650.8 L671.0,651.0 L671.4,651.2 L671.8,651.5 L672.2,651.8 L672.6,652.1 L673.0,652.5 L673.4,652.9 L673.8,653.3 L674.2,653.7 L674.6,654.2 L675.0,654.6 L675.4,655.0 L675.8,655.4 L676.2,655.8 L676.6,656.3 L677.0,656.7 L677.4,657.1 L677.8,657.5 L678.2,657.9 L678.6,658.2 L679.0,658.6 L679.4,658.9 L679.8,659.2 L680.2,659.5 L680.6,659.8 L681.0,660.0 L681.4,660.3 L681.8,660.5 L682.2,660.8 L682.6,661.0 L683.0,661.1 L683.8,661.4 L684.6,661.7 L685.4,661.9 L686.2,662.1 L687.4,662.3 L693.4,662.2 L696.2,662.0 L697.0,661.8 L697.8,661.6 L698.6,661.3 L699.4,661.2 L700.2,661.0 L701.0,660.8 L702.2,660.6 L703.8,660.8 L704.2,661.0 L704.6,661.3 L705.0,661.5 L705.4,661.8 L705.8,662.0 L706.2,662.2 L708.2,662.0 L708.6,661.8 L709.0,661.6 L709.4,661.4 L709.8,661.2 L710.2,660.9 L710.6,660.7 L711.0,660.4 L711.4,660.1 L711.8,659.8 L712.2,659.5 L712.6,659.1 L713.0,658.7 L713.4,658.2 L713.8,657.7 L714.2,657.2 L714.6,656.7 L715.0,656.0 L715.4,655.2 L715.8,654.4 L716.2,653.4 L716.6,652.3 L717.0,651.1 L717.4,649.3 L717.8,646.8 L718.2,644.3 L718.6,642.5 L719.0,642.1 L719.4,643.7 L719.8,646.6 L720.2,649.9 L720.6,652.7 L721.0,654.3 L721.4,655.5 L721.8,656.6 L722.2,657.6 L722.6,658.4 L723.0,659.0 L723.4,659.3 L723.8,659.5 L724.2,659.7 L725.0,659.9 L726.2,659.9 L726.6,659.6 L727.0,659.2 L727.4,658.8 L728.2,658.8 L728.6,659.2 L729.0,659.6 L729.4,660.2 L729.8,660.7 L730.2,661.1 L730.6,661.3 L731.0,661.5 L731.4,661.7 L731.8,661.9 L732.2,662.0 L733.0,662.3 L735.4,662.1 L736.2,661.9 L737.0,661.7 L737.8,661.5 L738.6,661.2 L739.0,661.0 L739.4,660.8 L739.8,660.5 L740.2,660.2 L740.6,659.8 L741.0,659.5 L741.4,659.2 L741.8,658.9 L742.2,658.8 L743.0,658.6 L743.8,658.4 L745.0,658.2 L746.6,658.2 L747.0,658.4 L747.4,658.7 L747.8,659.1 L748.2,659.5 L748.6,659.8 L749.0,660.2 L749.4,660.5 L749.8,660.9 L750.2,661.3 L750.6,661.6 L751.0,661.8 L752.2,662.0 L754.2,662.2 L757.7,662.3" transform="translate(-0.4,0)"/><use href="#bblue" x="0.8"/></g>
<g fill="none" stroke="#BE4B48" stroke-width="4.00" stroke-linejoin="round" stroke-linecap="round"><path id="bred" d="M72.2,662.0 L78.2,662.0 L84.2,662.0 L90.2,662.0 L96.2,662.0 L102.2,662.0 L108.2,662.0 L114.2,662.0 L120.2,662.0 L126.2,662.0 L132.2,661.9 L133.4,661.7 L134.6,661.5 L135.4,661.3 L136.2,661.2 L137.0,661.0 L137.8,660.8 L138.6,660.7 L139.4,660.5 L140.2,660.4 L141.4,660.2 L142.6,660.0 L143.8,659.8 L145.0,659.6 L146.2,659.4 L147.4,659.2 L148.2,659.1 L149.0,658.9 L149.8,658.7 L150.6,658.5 L151.0,658.3 L151.4,658.2 L151.8,658.0 L152.2,657.8 L152.6,657.6 L153.0,657.4 L153.4,657.2 L153.8,657.0 L154.2,656.8 L154.6,656.6 L155.0,656.4 L155.4,656.2 L155.8,656.0 L156.2,655.8 L156.6,655.6 L157.0,655.5 L157.8,655.2 L158.6,655.0 L159.4,654.7 L160.2,654.5 L161.0,654.2 L161.8,654.0 L162.6,653.8 L163.4,653.6 L164.2,653.5 L165.4,653.3 L167.0,653.1 L169.4,653.0 L173.8,653.2 L174.6,653.4 L175.4,653.6 L176.2,653.9 L177.0,654.2 L177.8,654.5 L178.6,654.8 L179.4,655.0 L180.2,655.2 L181.4,655.4 L182.6,655.6 L183.8,655.8 L185.0,656.0 L186.2,656.2 L187.4,656.3 L188.6,656.5 L190.2,656.7 L191.8,656.8 L193.4,657.0 L195.0,657.2 L196.6,657.3 L198.2,657.5 L199.8,657.7 L201.8,657.8 L203.8,658.0 L205.8,658.2 L208.2,658.3 L211.0,658.5 L213.8,658.7 L216.6,658.8 L219.4,659.0 L222.6,659.1 L226.6,659.3 L232.6,659.4 L238.6,659.3 L243.4,659.2 L246.6,659.0 L249.4,658.9 L251.8,658.7 L253.8,658.5 L254.6,658.3 L255.4,658.1 L256.2,657.9 L257.0,657.7 L257.8,657.5 L258.6,657.2 L259.4,657.0 L260.2,656.8 L261.0,656.5 L261.8,656.2 L262.2,656.1 L262.6,655.9 L263.0,655.7 L263.4,655.6 L263.8,655.4 L264.2,655.2 L264.6,654.9 L265.0,654.7 L265.4,654.5 L265.8,654.2 L266.2,654.0 L266.6,653.7 L267.0,653.5 L267.4,653.3 L267.8,653.1 L268.2,652.9 L268.6,652.7 L269.0,652.5 L269.4,652.4 L269.8,652.2 L270.2,652.0 L271.0,651.8 L272.6,651.9 L273.0,652.1 L273.4,652.3 L273.8,652.6 L274.2,652.8 L274.6,653.1 L275.0,653.3 L275.4,653.5 L276.2,653.7 L278.6,653.5 L279.8,653.3 L281.0,653.1 L282.2,653.0 L285.0,653.2 L285.4,653.4 L285.8,653.6 L286.2,653.8 L286.6,654.0 L287.0,654.2 L287.4,654.4 L287.8,654.6 L288.2,654.8 L288.6,654.9 L289.0,655.1 L289.4,655.3 L289.8,655.4 L290.2,655.6 L290.6,655.8 L291.0,656.0 L291.4,656.1 L291.8,656.3 L292.2,656.4 L293.0,656.7 L293.8,656.9 L295.4,657.0 L298.6,657.2 L303.8,657.4 L309.8,657.4 L315.8,657.4 L321.8,657.4 L323.8,657.2 L324.6,657.0 L325.4,656.8 L326.2,656.6 L327.0,656.4 L332.2,656.6 L333.8,656.8 L335.4,656.9 L337.8,657.1 L340.2,657.3 L342.6,657.4 L345.4,657.6 L349.0,657.7 L355.0,657.8 L358.6,657.6 L362.2,657.4 L368.2,657.6 L369.8,657.8 L371.0,658.0 L372.2,658.1 L373.4,658.3 L375.0,658.5 L377.4,658.6 L382.2,658.8 L386.6,658.5 L387.0,658.4 L387.4,658.2 L387.8,658.0 L388.2,657.8 L388.6,657.4 L389.0,656.8 L389.4,656.1 L389.8,655.6 L390.2,655.4 L390.6,655.7 L391.0,656.3 L391.4,657.1 L391.8,657.7 L392.2,658.0 L393.0,657.8 L393.4,657.6 L393.8,657.3 L394.2,657.0 L394.6,656.7 L395.0,656.5 L395.4,656.2 L395.8,656.1 L398.2,656.3 L399.0,656.5 L399.8,656.8 L400.6,657.0 L401.4,657.2 L402.6,657.4 L404.6,657.6 L407.4,657.7 L413.4,657.8 L416.6,657.6 L418.6,657.4 L419.0,657.2 L419.4,656.8 L419.8,656.3 L420.2,655.8 L420.6,655.3 L421.0,655.0 L421.4,655.0 L421.8,656.4 L422.2,658.7 L422.6,660.3 L423.0,660.6 L423.4,660.7 L423.8,660.9 L424.6,661.1 L425.4,661.3 L427.0,661.4 L427.4,661.1 L427.8,660.7 L428.2,660.2 L428.6,659.6 L429.0,659.0 L429.4,658.5 L429.8,658.1 L430.2,657.8 L431.0,657.9 L431.4,658.1 L431.8,658.4 L432.2,658.6 L432.6,658.9 L433.0,659.1 L433.4,659.3 L434.2,659.4 L434.6,659.2 L435.0,658.9 L435.4,658.6 L435.8,658.3 L436.2,658.0 L436.6,657.8 L437.4,657.9 L437.8,658.1 L438.2,658.4 L438.6,658.7 L439.0,659.0 L439.4,659.2 L440.2,659.4 L440.6,659.2 L441.0,658.9 L441.4,658.5 L441.8,658.1 L442.2,657.8 L442.6,657.5 L443.4,657.5 L443.8,657.9 L444.2,658.3 L444.6,658.9 L445.0,659.4 L445.4,659.9 L445.8,660.3 L446.6,660.5 L447.8,660.7 L449.4,660.9 L452.6,660.9 L453.0,660.6 L453.4,660.1 L453.8,659.5 L454.2,659.0 L454.6,658.5 L455.0,658.1 L455.4,657.8 L455.8,657.9 L456.2,658.7 L456.6,659.8 L457.0,660.7 L457.4,661.0 L463.4,661.0 L469.4,661.0 L475.4,661.1 L479.4,661.3 L482.6,661.5 L484.2,661.6 L485.8,661.8 L488.6,661.7 L489.0,661.5 L489.4,661.3 L489.8,661.1 L490.2,660.8 L490.6,660.5 L491.0,660.1 L491.4,659.7 L491.8,659.3 L492.2,658.9 L492.6,658.3 L493.0,657.5 L493.4,656.1 L493.8,654.3 L494.2,652.0 L494.6,649.0 L495.0,645.5 L495.4,640.7 L495.8,635.1 L496.2,628.4 L496.6,620.1 L497.0,609.5 L497.4,598.9 L497.8,588.4 L498.2,578.8 L498.6,570.8 L499.0,562.3 L499.4,549.9 L499.8,540.5 L500.2,533.9 L500.6,527.9 L501.0,522.7 L501.4,518.5 L501.8,514.8 L502.2,513.8 L502.6,517.0 L503.0,520.9 L503.4,525.2 L503.8,530.0 L504.2,535.0 L504.6,540.3 L505.0,546.6 L505.4,555.1 L505.8,565.0 L506.2,576.2 L506.6,585.1 L507.0,592.4 L507.4,598.8 L507.8,604.2 L508.2,608.7 L508.6,612.9 L509.0,616.6 L509.4,620.0 L509.8,623.1 L510.2,626.1 L510.6,628.8 L511.0,631.5 L511.4,633.9 L511.8,636.2 L512.2,638.4 L512.6,640.4 L513.0,642.4 L513.4,643.8 L513.8,644.8 L514.2,645.6 L514.6,646.1 L515.0,646.5 L515.4,646.8 L515.8,647.0 L516.2,647.3 L516.6,647.5 L517.0,647.7 L517.4,647.8 L517.8,648.0 L518.2,648.2 L519.0,648.4 L519.4,648.6 L519.8,648.7 L520.2,648.9 L520.6,649.1 L521.0,649.3 L521.4,649.6 L521.8,649.8 L522.2,650.1 L522.6,650.4 L523.0,650.7 L523.4,651.0 L523.8,651.3 L524.2,651.7 L524.6,652.1 L525.0,652.5 L525.4,652.9 L525.8,653.3 L526.2,653.7 L526.6,654.1 L527.0,654.5 L527.4,654.9 L527.8,655.3 L528.2,655.7 L528.6,656.1 L529.0,656.5 L529.4,656.8 L529.8,657.1 L530.2,657.4 L530.6,657.6 L531.0,657.9 L531.4,658.1 L531.8,658.3 L532.2,658.5 L532.6,658.7 L533.0,658.8 L533.8,659.1 L534.6,659.4 L535.4,659.6 L536.2,659.8 L537.0,660.0 L537.8,660.2 L538.6,660.4 L539.4,660.6 L540.2,660.8 L541.0,660.9 L542.2,661.2 L543.4,661.4 L544.6,661.6 L545.8,661.8 L547.0,661.9 L548.6,662.1 L550.6,662.2 L551.0,662.0 L551.4,661.6 L551.8,661.1 L552.2,660.3 L552.6,659.5 L553.0,658.7 L553.4,657.8 L553.8,656.9 L554.2,656.1 L554.6,655.3 L555.0,654.6 L555.4,653.8 L555.8,653.0 L556.2,652.2 L556.6,651.4 L557.0,650.6 L557.4,649.8 L557.8,649.0 L558.2,648.2 L558.6,647.5 L559.0,646.7 L559.4,645.8 L559.8,645.0 L560.2,644.4 L560.6,644.3 L561.0,644.8 L561.4,645.8 L561.8,646.9 L562.2,648.1 L562.6,649.1 L563.0,649.9 L563.4,650.8 L563.8,651.7 L564.2,652.4 L564.6,652.9 L565.0,653.1 L566.2,652.9 L566.6,652.7 L567.0,652.5 L567.4,652.3 L567.8,651.1 L568.2,648.4 L568.6,644.9 L569.0,641.0 L569.4,636.3 L569.8,630.4 L570.2,623.7 L570.6,616.9 L571.0,609.0 L571.4,600.3 L571.8,593.7 L572.2,590.2 L572.6,587.6 L573.0,586.5 L573.4,589.0 L573.8,595.2 L574.2,603.3 L574.6,611.5 L575.0,618.4 L575.4,626.0 L575.8,633.3 L576.2,639.0 L576.6,642.7 L577.0,645.9 L577.4,648.7 L577.8,650.8 L578.2,652.0 L578.6,652.6 L579.0,652.9 L579.4,653.2 L579.8,653.4 L580.2,653.6 L580.6,653.8 L581.0,654.1 L581.4,654.3 L581.8,654.6 L582.2,654.9 L582.6,655.2 L583.0,655.6 L583.4,655.9 L583.8,656.3 L584.2,656.8 L584.6,657.4 L585.0,657.9 L585.4,658.3 L585.8,658.4 L586.2,658.1 L586.6,657.3 L587.0,656.0 L587.4,654.4 L587.8,652.6 L588.2,650.6 L588.6,648.5 L589.0,646.0 L589.4,642.8 L589.8,639.1 L590.2,635.0 L590.6,630.9 L591.0,626.7 L591.4,622.5 L591.8,618.0 L592.2,613.2 L592.6,608.1 L593.0,602.6 L593.4,596.6 L593.8,590.1 L594.2,583.0 L594.6,575.4 L595.0,567.4 L595.4,558.8 L595.8,549.0 L596.2,538.4 L596.6,527.5 L597.0,516.7 L597.4,505.3 L597.8,493.7 L598.2,482.8 L598.6,473.4 L599.0,464.4 L599.4,456.1 L599.8,449.4 L600.2,445.1 L600.6,441.9 L601.0,439.2 L601.4,437.5 L601.8,437.3 L602.2,440.6 L602.6,447.1 L603.0,455.5 L603.4,464.3 L603.8,476.7 L604.2,490.9 L604.6,503.6 L605.0,515.6 L605.4,527.4 L605.8,539.5 L606.2,551.6 L606.6,563.2 L607.0,574.7 L607.4,585.5 L607.8,593.3 L608.2,599.7 L608.6,604.1 L609.0,604.7 L609.4,604.2 L609.8,603.5 L610.2,602.7 L610.6,602.1 L611.0,601.5 L611.4,600.8 L611.8,600.5 L612.2,600.6 L612.6,601.9 L613.0,603.8 L613.4,606.0 L613.8,607.8 L614.2,610.1 L614.6,612.4 L615.0,614.6 L615.4,616.2 L615.8,616.8 L616.2,616.3 L616.6,615.2 L617.0,613.5 L617.4,611.7 L617.8,610.0 L618.2,608.7 L618.6,608.0 L619.0,607.8 L619.4,607.6 L620.2,607.4 L621.0,607.2 L621.4,607.0 L621.8,606.7 L622.2,606.2 L622.6,605.6 L623.0,604.7 L623.4,603.0 L623.8,600.1 L624.2,596.5 L624.6,592.6 L625.0,588.5 L625.4,583.7 L625.8,578.5 L626.2,572.9 L626.6,567.3 L627.0,561.9 L627.4,556.5 L627.8,551.0 L628.2,545.5 L628.6,539.8 L629.0,534.0 L629.4,528.0 L629.8,521.8 L630.2,515.4 L630.6,509.0 L631.0,502.4 L631.4,495.8 L631.8,489.0 L632.2,482.0 L632.6,474.9 L633.0,468.1 L633.4,461.8 L633.8,455.8 L634.2,449.6 L634.6,443.8 L635.0,438.9 L635.4,435.5 L635.8,433.1 L636.2,431.0 L636.6,429.5 L637.0,428.9 L637.4,431.8 L637.8,438.8 L638.2,447.6 L638.6,456.8 L639.0,468.9 L639.4,481.9 L639.8,493.2 L640.2,502.1 L640.6,510.1 L641.0,517.6 L641.4,524.8 L641.8,531.8 L642.2,538.3 L642.6,544.3 L643.0,549.6 L643.4,554.5 L643.8,559.0 L644.2,563.2 L644.6,567.2 L645.0,570.9 L645.4,574.4 L645.8,577.8 L646.2,581.2 L646.6,584.6 L647.0,588.1 L647.4,591.7 L647.8,595.0 L648.2,598.0 L648.6,600.4 L649.0,602.3 L649.4,604.0 L649.8,605.5 L650.2,606.9 L650.6,608.3 L651.0,609.9 L651.4,611.6 L651.8,613.3 L652.2,615.0 L652.6,616.5 L653.0,617.9 L653.4,619.1 L653.8,620.3 L654.2,621.5 L654.6,622.4 L655.0,623.1 L655.4,623.6 L655.8,624.0 L656.2,624.3 L656.6,624.4 L657.0,624.1 L657.4,623.4 L657.8,622.4 L658.2,621.2 L658.6,619.8 L659.0,618.3 L659.4,616.2 L659.8,612.8 L660.2,609.0 L660.6,605.8 L661.0,603.9 L661.4,602.4 L661.8,601.5 L662.2,602.3 L662.6,605.4 L663.0,609.4 L663.4,612.9 L663.8,615.1 L664.2,617.1 L664.6,618.9 L665.0,620.5 L665.4,621.9 L665.8,623.0 L666.2,624.1 L666.6,625.2 L667.0,626.6 L667.4,628.6 L667.8,631.2 L668.2,633.9 L668.6,636.3 L669.0,637.9 L669.4,639.2 L669.8,640.4 L670.2,641.4 L670.6,642.1 L671.0,642.6 L671.8,642.7 L673.4,642.9 L673.8,643.0 L674.2,643.4 L674.6,644.3 L675.0,645.4 L675.4,646.6 L675.8,647.8 L676.2,648.7 L676.6,649.7 L677.0,650.7 L677.4,651.6 L677.8,652.5 L678.2,653.4 L678.6,654.2 L679.0,654.8 L679.4,655.4 L679.8,656.0 L680.2,656.6 L680.6,657.1 L681.0,657.6 L681.4,658.0 L681.8,658.4 L682.2,658.8 L682.6,659.1 L683.0,659.4 L683.4,659.7 L683.8,659.9 L684.2,660.1 L684.6,660.3 L685.0,660.5 L685.4,660.7 L686.2,661.0 L687.0,661.3 L687.8,661.5 L688.6,661.8 L689.4,661.9 L690.6,662.1 L692.2,662.1 L692.6,661.9 L693.0,661.7 L693.4,661.4 L693.8,661.1 L694.2,660.9 L694.6,660.6 L695.0,660.4 L695.4,660.2 L696.2,660.0 L697.0,659.8 L697.8,659.6 L698.6,659.5 L699.4,659.2 L699.8,659.1 L700.2,658.9 L700.6,658.7 L701.0,658.5 L701.4,658.3 L702.2,658.1 L702.6,658.1 L703.0,658.3 L703.4,658.6 L703.8,659.0 L704.2,659.4 L704.6,659.8 L705.0,660.1 L705.4,660.3 L705.8,660.6 L706.2,660.8 L706.6,661.0 L707.4,661.2 L707.8,661.0 L708.2,660.2 L708.6,658.9 L709.0,657.5 L709.4,656.2 L709.8,655.2 L710.2,654.7 L710.6,654.4 L711.0,654.1 L711.4,653.9 L711.8,653.7 L712.2,653.4 L712.6,653.0 L713.0,652.5 L713.4,651.8 L713.8,651.0 L714.2,650.1 L714.6,648.9 L715.0,647.6 L715.4,646.0 L715.8,643.8 L716.2,641.0 L716.6,637.6 L717.0,633.4 L717.4,627.1 L717.8,622.1 L718.2,618.2 L718.6,615.1 L719.0,613.8 L719.4,614.8 L719.8,617.5 L720.2,621.0 L720.6,624.8 L721.0,628.8 L721.4,633.7 L721.8,638.8 L722.2,643.3 L722.6,648.0 L723.0,652.1 L723.4,654.2 L723.8,654.7 L724.2,655.1 L724.6,655.3 L725.4,655.5 L725.8,655.0 L726.2,654.2 L726.6,653.2 L727.0,652.2 L727.4,651.4 L727.8,651.1 L728.2,651.5 L728.6,652.6 L729.0,653.9 L729.4,655.3 L729.8,656.5 L730.2,657.5 L730.6,658.7 L731.0,659.6 L731.4,660.4 L731.8,660.8 L732.2,661.1 L732.6,661.4 L733.0,661.6 L733.4,661.8 L734.6,661.8 L735.0,661.5 L735.4,661.2 L735.8,660.7 L736.2,660.1 L736.6,659.6 L737.0,659.1 L737.4,658.6 L737.8,658.1 L738.2,657.5 L738.6,656.9 L739.0,656.4 L739.4,655.9 L739.8,655.6 L740.2,655.3 L740.6,655.1 L741.0,655.0 L741.8,654.7 L742.6,654.4 L743.0,654.2 L743.4,654.0 L743.8,653.8 L744.2,653.6 L744.6,653.3 L745.0,653.0 L745.4,652.6 L745.8,652.2 L746.2,651.7 L746.6,651.3 L747.0,651.1 L747.4,651.2 L747.8,651.8 L748.2,652.6 L748.6,653.5 L749.0,654.2 L749.4,654.8 L749.8,655.4 L750.2,656.0 L750.6,656.5 L751.0,657.0 L751.4,657.5 L751.8,658.0 L752.2,658.5 L752.6,658.9 L753.0,659.3 L753.4,659.7 L753.8,659.9 L754.2,660.2 L754.6,660.3 L755.0,660.5 L755.8,660.8 L756.2,660.9 L756.6,661.1 L757.0,661.2 L757.4,661.4 L757.7,661.5" transform="translate(-0.4,0)"/><use href="#bred" x="0.8"/></g>
<text transform="translate(77.00,683.40) rotate(-90)" text-anchor="end" font-size="16.60" textLength="9.25" lengthAdjust="spacingAndGlyphs">1</text>
<text transform="translate(100.09,683.40) rotate(-90)" text-anchor="end" font-size="16.60" textLength="27.75" lengthAdjust="spacingAndGlyphs">122</text>
<text transform="translate(123.18,683.40) rotate(-90)" text-anchor="end" font-size="16.60" textLength="27.75" lengthAdjust="spacingAndGlyphs">243</text>
<text transform="translate(146.27,683.40) rotate(-90)" text-anchor="end" font-size="16.60" textLength="27.75" lengthAdjust="spacingAndGlyphs">364</text>
<text transform="translate(169.36,683.40) rotate(-90)" text-anchor="end" font-size="16.60" textLength="27.75" lengthAdjust="spacingAndGlyphs">485</text>
<text transform="translate(192.46,683.40) rotate(-90)" text-anchor="end" font-size="16.60" textLength="27.75" lengthAdjust="spacingAndGlyphs">606</text>
<text transform="translate(215.55,683.40) rotate(-90)" text-anchor="end" font-size="16.60" textLength="27.75" lengthAdjust="spacingAndGlyphs">727</text>
<text transform="translate(238.64,683.40) rotate(-90)" text-anchor="end" font-size="16.60" textLength="27.75" lengthAdjust="spacingAndGlyphs">848</text>
<text transform="translate(261.73,683.40) rotate(-90)" text-anchor="end" font-size="16.60" textLength="27.75" lengthAdjust="spacingAndGlyphs">969</text>
<text transform="translate(284.82,683.40) rotate(-90)" text-anchor="end" font-size="16.60" textLength="37.00" lengthAdjust="spacingAndGlyphs">1090</text>
<text transform="translate(307.91,683.40) rotate(-90)" text-anchor="end" font-size="16.60" textLength="37.00" lengthAdjust="spacingAndGlyphs">1211</text>
<text transform="translate(331.00,683.40) rotate(-90)" text-anchor="end" font-size="16.60" textLength="37.00" lengthAdjust="spacingAndGlyphs">1332</text>
<text transform="translate(354.09,683.40) rotate(-90)" text-anchor="end" font-size="16.60" textLength="37.00" lengthAdjust="spacingAndGlyphs">1453</text>
<text transform="translate(377.18,683.40) rotate(-90)" text-anchor="end" font-size="16.60" textLength="37.00" lengthAdjust="spacingAndGlyphs">1574</text>
<text transform="translate(400.28,683.40) rotate(-90)" text-anchor="end" font-size="16.60" textLength="37.00" lengthAdjust="spacingAndGlyphs">1695</text>
<text transform="translate(423.37,683.40) rotate(-90)" text-anchor="end" font-size="16.60" textLength="37.00" lengthAdjust="spacingAndGlyphs">1816</text>
<text transform="translate(446.46,683.40) rotate(-90)" text-anchor="end" font-size="16.60" textLength="37.00" lengthAdjust="spacingAndGlyphs">1937</text>
<text transform="translate(469.55,683.40) rotate(-90)" text-anchor="end" font-size="16.60" textLength="37.00" lengthAdjust="spacingAndGlyphs">2058</text>
<text transform="translate(492.64,683.40) rotate(-90)" text-anchor="end" font-size="16.60" textLength="37.00" lengthAdjust="spacingAndGlyphs">2179</text>
<text transform="translate(515.73,683.40) rotate(-90)" text-anchor="end" font-size="16.60" textLength="37.00" lengthAdjust="spacingAndGlyphs">2300</text>
<text transform="translate(538.82,683.40) rotate(-90)" text-anchor="end" font-size="16.60" textLength="37.00" lengthAdjust="spacingAndGlyphs">2421</text>
<text transform="translate(561.91,683.40) rotate(-90)" text-anchor="end" font-size="16.60" textLength="37.00" lengthAdjust="spacingAndGlyphs">2542</text>
<text transform="translate(585.01,683.40) rotate(-90)" text-anchor="end" font-size="16.60" textLength="37.00" lengthAdjust="spacingAndGlyphs">2663</text>
<text transform="translate(608.10,683.40) rotate(-90)" text-anchor="end" font-size="16.60" textLength="37.00" lengthAdjust="spacingAndGlyphs">2784</text>
<text transform="translate(631.19,683.40) rotate(-90)" text-anchor="end" font-size="16.60" textLength="37.00" lengthAdjust="spacingAndGlyphs">2905</text>
<text transform="translate(654.28,683.40) rotate(-90)" text-anchor="end" font-size="16.60" textLength="37.00" lengthAdjust="spacingAndGlyphs">3026</text>
<text transform="translate(677.37,683.40) rotate(-90)" text-anchor="end" font-size="16.60" textLength="37.00" lengthAdjust="spacingAndGlyphs">3147</text>
<text transform="translate(700.46,683.40) rotate(-90)" text-anchor="end" font-size="16.60" textLength="37.00" lengthAdjust="spacingAndGlyphs">3268</text>
<text transform="translate(723.55,683.40) rotate(-90)" text-anchor="end" font-size="16.60" textLength="37.00" lengthAdjust="spacingAndGlyphs">3389</text>
<text transform="translate(746.64,683.40) rotate(-90)" text-anchor="end" font-size="16.60" textLength="37.00" lengthAdjust="spacingAndGlyphs">3510</text>
<line x1="104.35" x2="139.95" y1="457.70" y2="457.70" stroke="#BE4B48" stroke-width="4.30" stroke-linecap="round"/>
<text x="144.20" y="462.70" font-size="16.40" textLength="264.60" lengthAdjust="spacingAndGlyphs">Aged CA from IQOS cigarette filters</text>
<line x1="104.35" x2="139.95" y1="513.70" y2="513.70" stroke="#4A7EBB" stroke-width="4.30" stroke-linecap="round"/>
<text x="144.20" y="518.80" font-size="16.40" textLength="221.00" lengthAdjust="spacingAndGlyphs">CA from IQOS cigarette filters</text>
<text x="19.80" y="440.20" font-size="29.70" textLength="9.10" lengthAdjust="spacingAndGlyphs">(</text>
<text x="29.60" y="441.00" font-size="27.30" textLength="16.20" lengthAdjust="spacingAndGlyphs">b</text>
<text x="47.30" y="440.20" font-size="29.70" textLength="9.10" lengthAdjust="spacingAndGlyphs">)</text>
<text transform="translate(37.80,597.50) rotate(-90)" font-size="16.80" textLength="89.60" lengthAdjust="spacingAndGlyphs">Absorbance</text>
<text x="346.00" y="748.50" font-size="15.80" textLength="99.90" lengthAdjust="spacingAndGlyphs">Wavenumber</text>
<line x1="451.20" y1="750.80" x2="458.10" y2="735.80" stroke="#000" stroke-width="1.35"/>
<text x="462.70" y="748.50" font-size="15.80" textLength="22.60" lengthAdjust="spacingAndGlyphs">cm</text>
<text x="485.50" y="744.30" font-size="11.30" textLength="12.40" lengthAdjust="spacingAndGlyphs">−1</text>
<rect x="-5.00" y="781.80" width="791.10" height="429.60" fill="#fff" stroke="#808080" stroke-width="1.30"/>
<line x1="71.30" x2="756.40" y1="828.00" y2="828.00" stroke="#868686" stroke-width="1.55"/>
<line x1="71.30" x2="756.40" y1="901.30" y2="901.30" stroke="#868686" stroke-width="1.55"/>
<line x1="71.30" x2="756.40" y1="974.60" y2="974.60" stroke="#868686" stroke-width="1.55"/>
<line x1="71.30" x2="756.40" y1="1047.90" y2="1047.90" stroke="#868686" stroke-width="1.55"/>
<line x1="71.30" x2="756.40" y1="1121.00" y2="1121.00" stroke="#868686" stroke-width="1.65"/>
<line x1="71.30" x2="71.30" y1="1115.20" y2="1126.60" stroke="#868686" stroke-width="1.75"/>
<line x1="80.81" x2="80.81" y1="1116.20" y2="1121.00" stroke="#868686" stroke-width="1.1"/>
<line x1="90.33" x2="90.33" y1="1115.20" y2="1126.60" stroke="#868686" stroke-width="1.75"/>
<line x1="99.84" x2="99.84" y1="1116.20" y2="1121.00" stroke="#868686" stroke-width="1.1"/>
<line x1="109.36" x2="109.36" y1="1115.20" y2="1126.60" stroke="#868686" stroke-width="1.75"/>
<line x1="118.88" x2="118.88" y1="1116.20" y2="1121.00" stroke="#868686" stroke-width="1.1"/>
<line x1="128.39" x2="128.39" y1="1115.20" y2="1126.60" stroke="#868686" stroke-width="1.75"/>
<line x1="137.90" x2="137.90" y1="1116.20" y2="1121.00" stroke="#868686" stroke-width="1.1"/>
<line x1="147.42" x2="147.42" y1="1115.20" y2="1126.60" stroke="#868686" stroke-width="1.75"/>
<line x1="156.94" x2="156.94" y1="1116.20" y2="1121.00" stroke="#868686" stroke-width="1.1"/>
<line x1="166.45" x2="166.45" y1="1115.20" y2="1126.60" stroke="#868686" stroke-width="1.75"/>
<line x1="175.96" x2="175.96" y1="1116.20" y2="1121.00" stroke="#868686" stroke-width="1.1"/>
<line x1="185.48" x2="185.48" y1="1115.20" y2="1126.60" stroke="#868686" stroke-width="1.75"/>
<line x1="195.00" x2="195.00" y1="1116.20" y2="1121.00" stroke="#868686" stroke-width="1.1"/>
<line x1="204.51" x2="204.51" y1="1115.20" y2="1126.60" stroke="#868686" stroke-width="1.75"/>
<line x1="214.02" x2="214.02" y1="1116.20" y2="1121.00" stroke="#868686" stroke-width="1.1"/>
<line x1="223.54" x2="223.54" y1="1115.20" y2="1126.60" stroke="#868686" stroke-width="1.75"/>
<line x1="233.06" x2="233.06" y1="1116.20" y2="1121.00" stroke="#868686" stroke-width="1.1"/>
<line x1="242.57" x2="242.57" y1="1115.20" y2="1126.60" stroke="#868686" stroke-width="1.75"/>
<line x1="252.08" x2="252.08" y1="1116.20" y2="1121.00" stroke="#868686" stroke-width="1.1"/>
<line x1="261.60" x2="261.60" y1="1115.20" y2="1126.60" stroke="#868686" stroke-width="1.75"/>
<line x1="271.12" x2="271.12" y1="1116.20" y2="1121.00" stroke="#868686" stroke-width="1.1"/>
<line x1="280.63" x2="280.63" y1="1115.20" y2="1126.60" stroke="#868686" stroke-width="1.75"/>
<line x1="290.14" x2="290.14" y1="1116.20" y2="1121.00" stroke="#868686" stroke-width="1.1"/>
<line x1="299.66" x2="299.66" y1="1115.20" y2="1126.60" stroke="#868686" stroke-width="1.75"/>
<line x1="309.18" x2="309.18" y1="1116.20" y2="1121.00" stroke="#868686" stroke-width="1.1"/>
<line x1="318.69" x2="318.69" y1="1115.20" y2="1126.60" stroke="#868686" stroke-width="1.75"/>
<line x1="328.20" x2="328.20" y1="1116.20" y2="1121.00" stroke="#868686" stroke-width="1.1"/>
<line x1="337.72" x2="337.72" y1="1115.20" y2="1126.60" stroke="#868686" stroke-width="1.75"/>
<line x1="347.24" x2="347.24" y1="1116.20" y2="1121.00" stroke="#868686" stroke-width="1.1"/>
<line x1="356.75" x2="356.75" y1="1115.20" y2="1126.60" stroke="#868686" stroke-width="1.75"/>
<line x1="366.27" x2="366.27" y1="1116.20" y2="1121.00" stroke="#868686" stroke-width="1.1"/>
<line x1="375.78" x2="375.78" y1="1115.20" y2="1126.60" stroke="#868686" stroke-width="1.75"/>
<line x1="385.30" x2="385.30" y1="1116.20" y2="1121.00" stroke="#868686" stroke-width="1.1"/>
<line x1="394.81" x2="394.81" y1="1115.20" y2="1126.60" stroke="#868686" stroke-width="1.75"/>
<line x1="404.32" x2="404.32" y1="1116.20" y2="1121.00" stroke="#868686" stroke-width="1.1"/>
<line x1="413.84" x2="413.84" y1="1115.20" y2="1126.60" stroke="#868686" stroke-width="1.75"/>
<line x1="423.36" x2="423.36" y1="1116.20" y2="1121.00" stroke="#868686" stroke-width="1.1"/>
<line x1="432.87" x2="432.87" y1="1115.20" y2="1126.60" stroke="#868686" stroke-width="1.75"/>
<line x1="442.39" x2="442.39" y1="1116.20" y2="1121.00" stroke="#868686" stroke-width="1.1"/>
<line x1="451.90" x2="451.90" y1="1115.20" y2="1126.60" stroke="#868686" stroke-width="1.75"/>
<line x1="461.42" x2="461.42" y1="1116.20" y2="1121.00" stroke="#868686" stroke-width="1.1"/>
<line x1="470.93" x2="470.93" y1="1115.20" y2="1126.60" stroke="#868686" stroke-width="1.75"/>
<line x1="480.44" x2="480.44" y1="1116.20" y2="1121.00" stroke="#868686" stroke-width="1.1"/>
<line x1="489.96" x2="489.96" y1="1115.20" y2="1126.60" stroke="#868686" stroke-width="1.75"/>
<line x1="499.48" x2="499.48" y1="1116.20" y2="1121.00" stroke="#868686" stroke-width="1.1"/>
<line x1="508.99" x2="508.99" y1="1115.20" y2="1126.60" stroke="#868686" stroke-width="1.75"/>
<line x1="518.51" x2="518.51" y1="1116.20" y2="1121.00" stroke="#868686" stroke-width="1.1"/>
<line x1="528.02" x2="528.02" y1="1115.20" y2="1126.60" stroke="#868686" stroke-width="1.75"/>
<line x1="537.53" x2="537.53" y1="1116.20" y2="1121.00" stroke="#868686" stroke-width="1.1"/>
<line x1="547.05" x2="547.05" y1="1115.20" y2="1126.60" stroke="#868686" stroke-width="1.75"/>
<line x1="556.56" x2="556.56" y1="1116.20" y2="1121.00" stroke="#868686" stroke-width="1.1"/>
<line x1="566.08" x2="566.08" y1="1115.20" y2="1126.60" stroke="#868686" stroke-width="1.75"/>
<line x1="575.60" x2="575.60" y1="1116.20" y2="1121.00" stroke="#868686" stroke-width="1.1"/>
<line x1="585.11" x2="585.11" y1="1115.20" y2="1126.60" stroke="#868686" stroke-width="1.75"/>
<line x1="594.62" x2="594.62" y1="1116.20" y2="1121.00" stroke="#868686" stroke-width="1.1"/>
<line x1="604.14" x2="604.14" y1="1115.20" y2="1126.60" stroke="#868686" stroke-width="1.75"/>
<line x1="613.65" x2="613.65" y1="1116.20" y2="1121.00" stroke="#868686" stroke-width="1.1"/>
<line x1="623.17" x2="623.17" y1="1115.20" y2="1126.60" stroke="#868686" stroke-width="1.75"/>
<line x1="632.68" x2="632.68" y1="1116.20" y2="1121.00" stroke="#868686" stroke-width="1.1"/>
<line x1="642.20" x2="642.20" y1="1115.20" y2="1126.60" stroke="#868686" stroke-width="1.75"/>
<line x1="651.72" x2="651.72" y1="1116.20" y2="1121.00" stroke="#868686" stroke-width="1.1"/>
<line x1="661.23" x2="661.23" y1="1115.20" y2="1126.60" stroke="#868686" stroke-width="1.75"/>
<line x1="670.75" x2="670.75" y1="1116.20" y2="1121.00" stroke="#868686" stroke-width="1.1"/>
<line x1="680.26" x2="680.26" y1="1115.20" y2="1126.60" stroke="#868686" stroke-width="1.75"/>
<line x1="689.77" x2="689.77" y1="1116.20" y2="1121.00" stroke="#868686" stroke-width="1.1"/>
<line x1="699.29" x2="699.29" y1="1115.20" y2="1126.60" stroke="#868686" stroke-width="1.75"/>
<line x1="708.80" x2="708.80" y1="1116.20" y2="1121.00" stroke="#868686" stroke-width="1.1"/>
<line x1="718.32" x2="718.32" y1="1115.20" y2="1126.60" stroke="#868686" stroke-width="1.75"/>
<line x1="727.83" x2="727.83" y1="1116.20" y2="1121.00" stroke="#868686" stroke-width="1.1"/>
<line x1="737.35" x2="737.35" y1="1115.20" y2="1126.60" stroke="#868686" stroke-width="1.75"/>
<line x1="746.87" x2="746.87" y1="1116.20" y2="1121.00" stroke="#868686" stroke-width="1.1"/>
<line x1="756.38" x2="756.38" y1="1115.20" y2="1126.60" stroke="#868686" stroke-width="1.75"/>
<path d="M71.30,1121.00 L71.30,799.10 L756.40,799.10 L756.40,1121.00" fill="none" stroke="#000" stroke-width="1.90"/>
<g fill="none" stroke="#4A7EBB" stroke-width="4.20" stroke-linejoin="round" stroke-linecap="round"><path id="cblue" d="M73.4,1121.0 L79.4,1121.0 L85.4,1121.0 L91.4,1121.0 L97.4,1121.0 L103.4,1120.9 L109.4,1120.9 L115.4,1120.9 L121.4,1120.9 L127.4,1120.8 L133.4,1120.8 L139.4,1120.6 L143.8,1120.5 L147.4,1120.3 L150.6,1120.2 L153.4,1120.0 L155.8,1119.8 L157.0,1119.7 L158.2,1119.5 L159.0,1119.3 L159.8,1119.1 L160.6,1119.0 L161.8,1118.8 L163.0,1118.6 L168.2,1118.8 L169.4,1119.0 L170.6,1119.2 L171.8,1119.3 L173.4,1119.5 L178.6,1119.7 L184.6,1119.8 L190.6,1119.9 L196.6,1119.9 L202.6,1119.9 L208.6,1119.9 L214.6,1119.9 L220.6,1119.8 L226.6,1119.7 L232.6,1119.6 L238.6,1119.5 L244.6,1119.4 L249.8,1119.2 L251.8,1119.1 L253.0,1118.9 L253.8,1118.7 L254.6,1118.5 L255.4,1118.2 L256.2,1118.0 L256.6,1117.8 L257.0,1117.6 L257.4,1117.4 L257.8,1117.0 L258.2,1116.5 L258.6,1115.9 L259.0,1115.2 L259.4,1114.5 L259.8,1113.9 L260.2,1113.4 L260.6,1112.9 L261.0,1112.3 L261.4,1111.8 L261.8,1111.4 L262.2,1111.2 L262.6,1111.3 L263.0,1111.8 L263.4,1112.5 L263.8,1113.2 L264.2,1113.8 L264.6,1114.0 L268.6,1113.9 L269.0,1113.6 L269.4,1113.1 L269.8,1112.6 L270.2,1112.1 L270.6,1111.6 L271.0,1111.3 L271.4,1111.2 L271.8,1111.4 L272.2,1111.8 L272.6,1112.3 L273.0,1112.8 L273.4,1113.4 L273.8,1113.9 L274.2,1114.3 L274.6,1114.5 L275.0,1114.7 L275.4,1114.8 L276.2,1115.1 L277.0,1115.3 L277.8,1115.5 L278.6,1115.6 L279.4,1115.8 L280.6,1116.0 L281.8,1116.2 L283.0,1116.5 L284.2,1116.7 L285.4,1116.9 L286.6,1117.1 L288.2,1117.2 L290.6,1117.4 L296.6,1117.5 L302.6,1117.6 L308.6,1117.6 L314.6,1117.5 L317.4,1117.3 L319.4,1117.2 L321.4,1117.0 L322.6,1116.8 L323.4,1116.5 L324.2,1116.3 L325.0,1116.0 L325.8,1115.8 L326.6,1115.6 L327.8,1115.4 L330.6,1115.6 L331.8,1115.8 L332.6,1116.0 L333.4,1116.1 L334.6,1116.3 L336.6,1116.5 L339.0,1116.7 L341.8,1116.8 L345.0,1117.0 L349.0,1117.1 L355.0,1117.3 L361.0,1117.4 L367.0,1117.4 L373.4,1117.5 L377.4,1117.7 L378.6,1117.9 L379.8,1118.0 L381.0,1118.2 L382.2,1118.4 L386.2,1118.1 L386.6,1117.9 L387.0,1117.8 L387.4,1117.6 L387.8,1117.4 L388.2,1117.2 L388.6,1117.1 L389.0,1116.9 L389.4,1116.7 L389.8,1116.6 L390.6,1116.3 L391.4,1116.1 L392.2,1115.8 L393.0,1115.5 L393.8,1115.3 L394.6,1115.0 L395.4,1114.8 L396.6,1114.6 L399.4,1114.9 L400.2,1115.1 L401.0,1115.3 L401.8,1115.5 L402.6,1115.8 L403.4,1116.0 L404.2,1116.2 L405.4,1116.3 L406.6,1116.5 L408.2,1116.7 L409.8,1116.8 L411.4,1117.0 L413.0,1117.2 L414.2,1117.3 L415.4,1117.5 L416.6,1117.7 L417.8,1117.9 L419.0,1118.1 L419.8,1118.3 L420.6,1118.5 L421.0,1118.6 L421.4,1118.9 L421.8,1119.2 L422.2,1119.6 L422.6,1120.0 L423.0,1120.3 L423.4,1120.5 L425.0,1120.2 L425.4,1120.0 L425.8,1119.9 L426.2,1119.6 L426.6,1119.4 L427.0,1119.2 L427.4,1119.0 L427.8,1118.8 L428.2,1118.7 L429.0,1118.5 L430.2,1118.3 L431.4,1118.1 L432.6,1117.9 L433.8,1117.7 L435.4,1117.6 L438.2,1117.4 L440.6,1117.6 L441.4,1117.8 L442.2,1118.0 L443.0,1118.3 L443.8,1118.6 L444.6,1118.9 L445.4,1119.1 L446.2,1119.3 L447.0,1119.5 L448.2,1119.7 L449.4,1119.8 L451.0,1120.0 L452.6,1120.1 L454.6,1120.3 L457.0,1120.5 L459.8,1120.6 L463.0,1120.8 L467.4,1121.0 L473.4,1121.0 L479.4,1121.0 L485.4,1120.9 L491.4,1120.8 L491.8,1120.1 L492.2,1118.8 L492.6,1117.0 L493.0,1115.0 L493.4,1112.5 L493.8,1109.1 L494.2,1105.0 L494.6,1099.8 L495.0,1093.2 L495.4,1085.8 L495.8,1077.3 L496.2,1067.6 L496.6,1057.5 L497.0,1047.7 L497.4,1038.2 L497.8,1028.8 L498.2,1020.0 L498.6,1011.4 L499.0,1002.8 L499.4,998.9 L499.8,1004.7 L500.2,1017.4 L500.6,1030.0 L501.0,1040.4 L501.4,1050.9 L501.8,1060.3 L502.2,1068.1 L502.6,1075.0 L503.0,1080.9 L503.4,1085.8 L503.8,1089.8 L504.2,1093.3 L504.6,1096.3 L505.0,1098.9 L505.4,1101.0 L505.8,1102.9 L506.2,1104.6 L506.6,1106.1 L507.0,1107.3 L507.4,1108.2 L507.8,1109.0 L508.2,1109.8 L508.6,1110.4 L509.0,1111.0 L509.4,1111.6 L509.8,1112.0 L510.2,1112.4 L510.6,1112.7 L511.0,1112.9 L511.4,1113.1 L511.8,1113.3 L512.2,1113.5 L512.6,1113.7 L513.0,1113.8 L513.8,1114.1 L514.6,1114.4 L515.4,1114.6 L516.2,1114.9 L517.0,1115.1 L517.8,1115.4 L518.6,1115.6 L519.4,1115.8 L520.2,1116.0 L521.0,1116.2 L521.8,1116.4 L522.6,1116.6 L523.4,1116.8 L524.2,1117.0 L525.0,1117.2 L525.8,1117.4 L526.6,1117.6 L527.4,1117.8 L528.2,1117.9 L529.0,1118.1 L529.8,1118.3 L531.0,1118.5 L532.2,1118.7 L533.4,1118.9 L534.6,1119.0 L535.8,1119.2 L537.0,1119.4 L538.2,1119.5 L539.4,1119.7 L540.6,1119.9 L541.8,1120.1 L543.0,1120.3 L544.2,1120.5 L545.4,1120.7 L546.6,1120.9 L549.8,1120.8 L550.2,1120.6 L550.6,1120.2 L551.0,1119.8 L551.4,1119.2 L551.8,1118.6 L552.2,1117.9 L552.6,1117.0 L553.0,1115.8 L553.4,1112.5 L553.8,1107.9 L554.2,1102.8 L554.6,1098.4 L555.0,1094.0 L555.4,1089.4 L555.8,1085.9 L556.2,1085.2 L556.6,1088.5 L557.0,1094.3 L557.4,1100.7 L557.8,1105.2 L558.2,1108.1 L558.6,1110.7 L559.0,1113.1 L559.4,1114.9 L559.8,1116.2 L560.2,1116.9 L560.6,1117.4 L561.0,1117.9 L561.4,1118.3 L561.8,1118.6 L562.2,1118.9 L562.6,1119.1 L563.4,1119.3 L563.8,1119.2 L564.2,1119.0 L564.6,1118.6 L565.0,1118.0 L565.4,1117.3 L565.8,1116.5 L566.2,1115.7 L566.6,1114.8 L567.0,1113.4 L567.4,1111.7 L567.8,1109.7 L568.2,1107.8 L568.6,1106.0 L569.0,1104.5 L569.4,1103.1 L569.8,1101.8 L570.2,1100.3 L570.6,1098.5 L571.0,1095.9 L571.4,1092.8 L571.8,1089.8 L572.2,1087.5 L572.6,1086.6 L573.0,1087.5 L573.4,1089.8 L573.8,1092.8 L574.2,1095.6 L574.6,1098.1 L575.0,1100.9 L575.4,1103.6 L575.8,1105.9 L576.2,1107.5 L576.6,1108.5 L577.0,1109.4 L577.4,1110.2 L577.8,1110.9 L578.2,1111.6 L578.6,1112.1 L579.0,1112.6 L579.4,1113.0 L579.8,1113.2 L580.2,1113.4 L581.0,1113.7 L581.8,1113.9 L582.6,1114.0 L583.4,1114.3 L583.8,1114.5 L584.2,1114.8 L584.6,1115.1 L585.0,1115.5 L585.4,1115.8 L585.8,1116.0 L587.0,1115.8 L587.4,1115.7 L587.8,1115.5 L588.2,1115.2 L588.6,1114.9 L589.0,1113.7 L589.4,1112.1 L589.8,1110.8 L590.2,1110.4 L590.6,1110.1 L591.0,1110.0 L591.8,1109.8 L592.6,1109.6 L593.8,1109.4 L594.6,1109.2 L595.0,1109.0 L595.4,1108.6 L595.8,1107.7 L596.2,1106.5 L596.6,1105.0 L597.0,1102.7 L597.4,1099.6 L597.8,1096.5 L598.2,1093.2 L598.6,1090.0 L599.0,1087.3 L599.4,1084.6 L599.8,1081.1 L600.2,1076.7 L600.6,1072.0 L601.0,1067.0 L601.4,1062.0 L601.8,1058.2 L602.2,1055.3 L602.6,1054.2 L603.0,1053.9 L603.4,1053.3 L603.8,1052.2 L604.2,1050.6 L604.6,1047.9 L605.0,1042.9 L605.4,1037.2 L605.8,1030.4 L606.2,1014.5 L606.6,997.9 L607.0,1002.0 L607.4,1014.3 L607.8,1028.4 L608.2,1042.0 L608.6,1054.9 L609.0,1062.9 L609.4,1068.8 L609.8,1073.2 L610.2,1076.6 L610.6,1079.7 L611.0,1083.0 L611.4,1087.1 L611.8,1091.4 L612.2,1094.5 L612.6,1096.6 L613.0,1097.8 L613.4,1097.5 L613.8,1096.1 L614.2,1094.0 L614.6,1089.5 L615.0,1083.0 L615.4,1076.1 L615.8,1068.5 L616.2,1060.5 L616.6,1051.7 L617.0,1043.5 L617.4,1036.5 L617.8,1030.9 L618.2,1027.9 L618.6,1026.5 L619.0,1029.5 L619.4,1035.5 L619.8,1045.4 L620.2,1054.4 L620.6,1053.5 L621.0,1048.8 L621.4,1043.9 L621.8,1039.2 L622.2,1033.8 L622.6,1026.1 L623.0,1016.6 L623.4,1008.4 L623.8,1000.9 L624.2,994.2 L624.6,987.9 L625.0,982.5 L625.4,978.7 L625.8,975.5 L626.2,975.1 L626.6,978.5 L627.0,983.7 L627.4,990.1 L627.8,998.7 L628.2,1007.2 L628.6,1015.7 L629.0,1024.4 L629.4,1032.2 L629.8,1038.9 L630.2,1044.1 L630.6,1047.5 L631.0,1049.9 L631.4,1049.7 L631.8,1046.0 L632.2,1041.1 L632.6,1036.5 L633.0,1031.6 L633.4,1028.8 L633.8,1026.9 L634.2,1027.1 L634.6,1030.0 L635.0,1034.2 L635.4,1041.5 L635.8,1048.0 L636.2,1053.5 L636.6,1058.7 L637.0,1063.9 L637.4,1068.9 L637.8,1073.2 L638.2,1077.0 L638.6,1080.4 L639.0,1083.2 L639.4,1085.4 L639.8,1087.0 L640.2,1088.5 L640.6,1090.0 L641.0,1092.1 L641.4,1094.6 L641.8,1096.7 L642.2,1098.3 L642.6,1099.7 L643.0,1101.0 L643.4,1102.2 L643.8,1103.2 L644.2,1104.1 L644.6,1104.9 L645.0,1105.7 L645.4,1106.5 L645.8,1107.2 L646.2,1107.7 L646.6,1108.0 L650.2,1108.2 L650.6,1108.7 L651.0,1109.4 L651.4,1110.2 L651.8,1110.8 L652.2,1111.2 L652.6,1111.4 L653.0,1111.6 L653.8,1111.8 L654.6,1111.9 L655.0,1111.7 L655.4,1111.3 L655.8,1110.7 L656.2,1110.2 L656.6,1109.8 L657.0,1109.6 L657.4,1109.7 L657.8,1109.9 L658.2,1110.2 L658.6,1110.6 L659.0,1111.0 L659.4,1111.4 L659.8,1111.7 L660.2,1111.8 L660.6,1112.0 L661.4,1112.2 L662.2,1112.4 L663.4,1112.4 L663.8,1112.1 L664.2,1111.8 L664.6,1111.5 L665.0,1111.0 L665.4,1110.4 L665.8,1109.7 L666.2,1108.7 L666.6,1107.0 L667.0,1105.0 L667.4,1101.8 L667.8,1100.5 L668.2,1103.4 L668.6,1107.0 L669.0,1109.5 L669.4,1111.7 L669.8,1113.2 L670.2,1114.3 L670.6,1115.1 L671.0,1115.7 L671.4,1116.3 L671.8,1116.9 L672.2,1117.3 L672.6,1117.7 L673.0,1118.1 L673.4,1118.3 L673.8,1118.6 L674.2,1118.8 L674.6,1119.0 L675.0,1119.3 L675.4,1119.4 L675.8,1119.6 L676.6,1119.9 L677.8,1120.0 L679.8,1120.2 L683.4,1120.2 L683.8,1120.0 L684.2,1119.6 L684.6,1119.1 L685.0,1118.6 L685.4,1118.0 L685.8,1117.3 L686.2,1116.5 L686.6,1115.5 L687.0,1114.2 L687.4,1112.7 L687.8,1111.0 L688.2,1109.0 L688.6,1105.8 L689.0,1101.6 L689.4,1098.3 L689.8,1095.4 L690.2,1094.6 L690.6,1097.3 L691.0,1101.0 L691.4,1104.7 L691.8,1108.3 L692.2,1110.3 L692.6,1111.7 L693.0,1112.6 L693.4,1113.3 L693.8,1113.9 L694.2,1114.0 L694.6,1113.7 L695.0,1113.1 L695.4,1112.3 L695.8,1111.4 L696.2,1110.5 L696.6,1109.5 L697.0,1108.2 L697.4,1106.8 L697.8,1105.6 L698.2,1104.7 L698.6,1104.1 L699.0,1103.6 L699.4,1103.1 L699.8,1102.7 L700.2,1102.4 L700.6,1102.2 L701.0,1102.1 L701.4,1102.3 L701.8,1102.7 L702.2,1103.3 L702.6,1104.0 L703.0,1104.6 L703.4,1105.2 L703.8,1105.8 L704.2,1106.4 L704.6,1107.1 L705.0,1107.7 L705.4,1108.3 L705.8,1108.8 L706.2,1109.3 L706.6,1109.8 L707.0,1110.2 L707.4,1110.6 L707.8,1111.0 L708.2,1111.4 L708.6,1111.8 L709.0,1112.1 L709.4,1112.5 L709.8,1112.9 L710.2,1113.2 L710.6,1113.6 L711.0,1113.9 L711.4,1114.3 L711.8,1114.6 L712.2,1114.9 L712.6,1115.3 L713.0,1115.6 L713.4,1115.9 L713.8,1116.2 L714.2,1116.5 L714.6,1116.8 L715.0,1117.1 L715.4,1117.4 L715.8,1117.7 L716.2,1118.0 L716.6,1118.3 L717.0,1118.5 L717.4,1118.7 L717.8,1118.9 L718.6,1119.1 L719.4,1119.4 L720.2,1119.6 L721.4,1119.8 L727.4,1119.8 L733.8,1119.8 L740.2,1119.8 L746.6,1119.8 L753.0,1119.8 L756.5,1119.8" transform="translate(-0.4,0)"/><use href="#cblue" x="0.8"/></g>
<g fill="none" stroke="#BE4B48" stroke-width="4.20" stroke-linejoin="round" stroke-linecap="round"><path id="cred" d="M73.4,1120.7 L77.0,1120.5 L80.6,1120.4 L84.6,1120.2 L88.6,1120.1 L92.6,1119.9 L97.0,1119.8 L101.8,1119.6 L107.0,1119.4 L112.6,1119.3 L118.6,1119.1 L124.2,1119.0 L129.4,1118.8 L134.2,1118.7 L139.0,1118.5 L143.0,1118.4 L146.2,1118.2 L149.0,1118.0 L151.0,1117.9 L152.6,1117.7 L153.8,1117.5 L155.0,1117.3 L156.2,1117.1 L157.4,1116.9 L158.6,1116.6 L159.4,1116.5 L160.2,1116.2 L161.0,1116.0 L161.8,1115.8 L162.6,1115.6 L163.8,1115.5 L167.0,1115.7 L167.8,1115.9 L168.6,1116.1 L169.4,1116.3 L170.2,1116.5 L171.0,1116.7 L172.6,1116.9 L174.6,1117.0 L177.0,1117.2 L180.2,1117.4 L186.2,1117.4 L192.2,1117.3 L198.2,1117.2 L204.2,1117.1 L210.2,1117.0 L216.2,1117.0 L222.2,1116.9 L228.2,1116.8 L234.2,1116.7 L240.2,1116.6 L245.8,1116.5 L248.6,1116.3 L249.4,1116.1 L250.2,1115.9 L251.0,1115.7 L251.8,1115.4 L252.6,1115.1 L253.4,1114.9 L253.8,1114.7 L254.2,1114.6 L254.6,1114.4 L255.0,1114.2 L255.4,1113.9 L255.8,1113.6 L256.2,1113.3 L256.6,1112.7 L257.0,1111.9 L257.4,1110.8 L257.8,1109.7 L258.2,1108.5 L258.6,1107.4 L259.0,1106.5 L259.4,1105.7 L259.8,1104.8 L260.2,1104.0 L260.6,1103.2 L261.0,1102.5 L261.4,1102.1 L261.8,1101.9 L262.2,1102.2 L262.6,1103.1 L263.0,1104.2 L263.4,1105.5 L263.8,1106.6 L264.2,1107.3 L264.6,1107.8 L265.0,1108.3 L265.4,1108.7 L265.8,1109.1 L266.2,1109.3 L266.6,1109.4 L267.0,1109.2 L267.4,1108.6 L267.8,1107.9 L268.2,1107.0 L268.6,1106.2 L269.0,1105.5 L269.4,1105.1 L269.8,1104.7 L270.2,1104.4 L270.6,1104.1 L271.0,1103.9 L271.4,1103.9 L271.8,1104.2 L272.2,1104.8 L272.6,1105.6 L273.0,1106.5 L273.4,1107.3 L273.8,1108.0 L274.2,1108.5 L274.6,1109.0 L275.0,1109.5 L275.4,1110.0 L275.8,1110.4 L276.2,1110.8 L276.6,1111.0 L277.0,1111.2 L281.8,1111.0 L282.2,1110.9 L282.6,1110.7 L283.0,1110.5 L283.8,1110.3 L285.0,1110.5 L285.4,1110.7 L285.8,1111.0 L286.2,1111.3 L286.6,1111.6 L287.0,1111.9 L287.4,1112.2 L287.8,1112.5 L288.2,1112.7 L289.0,1112.9 L289.8,1113.0 L290.6,1113.2 L291.8,1113.4 L293.0,1113.6 L294.2,1113.7 L295.8,1113.9 L301.8,1114.0 L307.8,1114.0 L313.8,1113.9 L315.8,1113.7 L317.4,1113.5 L318.6,1113.4 L319.8,1113.2 L321.0,1113.0 L322.2,1112.8 L323.0,1112.5 L323.4,1112.4 L323.8,1112.2 L324.2,1112.0 L324.6,1111.9 L325.0,1111.7 L325.4,1111.6 L326.2,1111.3 L327.0,1111.1 L328.2,1110.9 L330.2,1111.1 L331.4,1111.3 L332.2,1111.4 L333.0,1111.6 L333.8,1111.8 L335.0,1112.0 L336.6,1112.1 L338.2,1112.3 L339.8,1112.5 L341.4,1112.7 L343.4,1112.8 L346.6,1113.0 L352.6,1113.0 L359.0,1112.8 L365.4,1112.8 L369.0,1113.0 L371.4,1113.1 L373.4,1113.3 L375.0,1113.5 L376.6,1113.7 L377.4,1113.9 L378.2,1114.2 L379.0,1114.5 L379.8,1114.7 L380.6,1115.0 L381.4,1115.1 L383.0,1115.0 L383.4,1114.8 L383.8,1114.6 L384.2,1114.3 L384.6,1114.0 L385.0,1113.7 L385.4,1113.3 L385.8,1113.0 L386.2,1112.6 L386.6,1112.2 L387.0,1111.7 L387.4,1111.1 L387.8,1110.5 L388.2,1109.8 L388.6,1109.2 L389.0,1108.4 L389.4,1107.3 L389.8,1106.4 L390.2,1106.5 L390.6,1107.7 L391.0,1109.3 L391.4,1110.2 L394.6,1110.2 L395.0,1109.9 L395.4,1109.6 L395.8,1109.2 L396.2,1108.9 L396.6,1108.6 L397.8,1108.7 L398.2,1108.9 L398.6,1109.2 L399.0,1109.5 L399.4,1109.8 L399.8,1110.0 L400.2,1110.3 L400.6,1110.4 L401.4,1110.6 L402.6,1110.8 L403.8,1111.0 L405.4,1111.2 L407.0,1111.4 L408.2,1111.5 L409.4,1111.7 L411.0,1111.9 L414.6,1111.8 L415.0,1111.6 L415.4,1111.4 L415.8,1111.2 L416.2,1111.0 L416.6,1110.8 L417.0,1110.6 L417.4,1110.4 L417.8,1110.2 L418.2,1110.1 L418.6,1109.9 L419.0,1109.7 L419.4,1109.6 L420.2,1109.3 L420.6,1109.3 L421.0,1109.6 L421.4,1110.6 L421.8,1112.1 L422.2,1113.9 L422.6,1116.7 L423.0,1119.9 L423.4,1120.1 L427.0,1120.0 L427.4,1119.2 L427.8,1118.1 L428.2,1116.8 L428.6,1115.7 L429.0,1115.1 L429.4,1114.6 L429.8,1114.1 L430.2,1113.7 L430.6,1113.3 L431.0,1113.1 L431.4,1112.9 L432.6,1113.0 L433.0,1113.2 L433.4,1113.4 L433.8,1113.7 L434.2,1113.8 L435.0,1114.0 L435.4,1113.9 L435.8,1113.7 L436.2,1113.4 L436.6,1113.0 L437.0,1112.7 L437.4,1112.5 L438.2,1112.4 L438.6,1112.6 L439.0,1112.9 L439.4,1113.2 L439.8,1113.5 L440.2,1113.7 L440.6,1113.9 L441.0,1114.0 L441.4,1113.0 L441.8,1111.6 L442.2,1111.4 L442.6,1112.1 L443.0,1113.2 L443.4,1114.3 L443.8,1115.2 L444.2,1115.5 L444.6,1115.7 L445.4,1115.9 L446.2,1116.1 L447.0,1116.4 L447.4,1116.6 L447.8,1116.9 L448.2,1117.2 L448.6,1117.6 L449.0,1118.0 L449.4,1118.3 L449.8,1118.5 L450.6,1118.4 L451.0,1118.3 L451.4,1118.0 L451.8,1117.8 L452.2,1117.4 L452.6,1117.0 L453.0,1116.6 L453.4,1116.1 L453.8,1115.1 L454.2,1113.9 L454.6,1112.8 L455.0,1112.1 L455.4,1112.2 L455.8,1113.9 L456.2,1116.1 L456.6,1118.0 L457.0,1118.8 L457.4,1119.3 L457.8,1119.7 L458.2,1120.1 L458.6,1120.3 L459.4,1120.5 L465.4,1120.5 L471.4,1120.5 L476.2,1120.3 L479.8,1120.2 L483.8,1120.0 L487.0,1119.8 L488.6,1119.7 L489.0,1119.5 L489.4,1119.2 L489.8,1118.8 L490.2,1118.3 L490.6,1117.6 L491.0,1116.5 L491.4,1114.9 L491.8,1113.0 L492.2,1110.5 L492.6,1107.3 L493.0,1102.9 L493.4,1097.1 L493.8,1090.4 L494.2,1082.9 L494.6,1074.1 L495.0,1063.8 L495.4,1052.3 L495.8,1039.8 L496.2,1025.5 L496.6,1007.4 L497.0,978.4 L497.4,949.4 L497.8,925.6 L498.2,905.1 L498.6,889.4 L499.0,879.8 L499.4,879.8 L499.8,889.4 L500.2,905.2 L500.6,921.9 L501.0,938.0 L501.4,965.2 L501.8,983.8 L502.2,994.5 L502.6,1004.7 L503.0,1015.7 L503.4,1026.4 L503.8,1036.4 L504.2,1044.9 L504.6,1051.9 L505.0,1058.2 L505.4,1064.0 L505.8,1069.3 L506.2,1074.2 L506.6,1078.7 L507.0,1082.9 L507.4,1086.8 L507.8,1090.4 L508.2,1093.6 L508.6,1096.3 L509.0,1098.4 L509.4,1100.3 L509.8,1101.8 L510.2,1103.2 L510.6,1104.3 L511.0,1105.4 L511.4,1106.3 L511.8,1107.1 L512.2,1107.8 L512.6,1108.4 L513.0,1108.9 L513.4,1109.4 L513.8,1109.8 L514.2,1110.2 L514.6,1110.5 L515.0,1110.8 L515.4,1111.1 L515.8,1111.3 L516.2,1111.6 L516.6,1111.8 L517.0,1112.0 L517.4,1112.1 L517.8,1112.3 L518.2,1112.4 L518.6,1112.6 L519.4,1112.9 L519.8,1113.0 L520.2,1113.2 L520.6,1113.4 L521.0,1113.5 L521.4,1113.7 L521.8,1113.8 L522.6,1114.1 L523.4,1114.4 L524.2,1114.7 L525.0,1114.9 L525.8,1115.2 L526.6,1115.5 L527.4,1115.7 L528.2,1115.9 L529.0,1116.2 L529.8,1116.4 L530.6,1116.6 L531.4,1116.8 L532.2,1117.1 L533.0,1117.3 L533.8,1117.5 L534.6,1117.8 L535.4,1118.0 L536.2,1118.3 L537.0,1118.5 L537.8,1118.7 L538.6,1118.9 L539.4,1119.1 L540.2,1119.3 L541.0,1119.4 L541.8,1119.6 L542.6,1119.7 L543.4,1119.9 L544.6,1120.1 L546.2,1120.3 L549.0,1120.1 L549.8,1119.8 L550.2,1119.4 L550.6,1118.6 L551.0,1117.5 L551.4,1115.9 L551.8,1113.5 L552.2,1109.9 L552.6,1104.9 L553.0,1097.3 L553.4,1088.2 L553.8,1080.1 L554.2,1072.5 L554.6,1065.3 L555.0,1059.6 L555.4,1055.4 L555.8,1052.1 L556.2,1051.2 L556.6,1054.4 L557.0,1061.0 L557.4,1078.9 L557.8,1088.3 L558.2,1095.0 L558.6,1100.2 L559.0,1104.6 L559.4,1108.5 L559.8,1111.9 L560.2,1113.9 L560.6,1115.2 L561.0,1116.3 L561.4,1116.9 L561.8,1117.2 L562.2,1117.5 L562.6,1117.8 L563.0,1118.0 L563.4,1118.1 L565.0,1118.1 L565.4,1117.9 L565.8,1117.6 L566.2,1117.3 L566.6,1116.8 L567.0,1116.0 L567.4,1114.8 L567.8,1107.2 L568.2,1089.1 L568.6,1078.0 L569.0,1072.2 L569.4,1068.6 L569.8,1066.0 L570.2,1065.4 L570.6,1065.1 L571.0,1065.0 L571.4,1065.2 L571.8,1068.8 L572.2,1076.1 L572.6,1073.2 L573.0,1064.2 L573.4,1056.2 L573.8,1052.1 L574.2,1052.5 L574.6,1054.6 L575.0,1058.5 L575.4,1066.4 L575.8,1075.8 L576.2,1083.5 L576.6,1088.6 L577.0,1092.8 L577.4,1096.8 L577.8,1101.3 L578.2,1105.2 L578.6,1106.3 L579.0,1107.0 L579.4,1107.6 L579.8,1108.0 L580.2,1108.3 L580.6,1108.6 L581.0,1108.8 L581.4,1109.1 L581.8,1109.3 L582.6,1109.3 L583.0,1108.8 L583.4,1107.9 L583.8,1106.8 L584.2,1105.8 L584.6,1105.2 L585.0,1105.0 L585.4,1105.6 L585.8,1106.8 L586.2,1108.1 L586.6,1109.4 L587.0,1110.4 L587.4,1110.6 L587.8,1109.9 L588.2,1108.6 L588.6,1106.9 L589.0,1104.5 L589.4,1100.5 L589.8,1099.2 L590.2,1098.9 L590.6,1098.6 L591.4,1098.4 L592.6,1098.2 L593.4,1098.0 L593.8,1097.8 L594.2,1097.4 L594.6,1096.9 L595.0,1096.2 L595.4,1095.4 L595.8,1094.5 L596.2,1093.3 L596.6,1091.7 L597.0,1090.0 L597.4,1088.1 L597.8,1085.9 L598.2,1083.0 L598.6,1078.4 L599.0,1072.0 L599.4,1062.9 L599.8,1048.3 L600.2,1030.0 L600.6,1013.1 L601.0,996.6 L601.4,985.9 L601.8,981.2 L602.2,980.7 L602.6,980.5 L603.0,980.7 L603.4,982.1 L603.8,984.0 L604.2,986.1 L604.6,977.5 L605.0,966.4 L605.4,954.9 L605.8,943.0 L606.2,930.8 L606.6,917.4 L607.0,901.7 L607.4,885.0 L607.8,872.1 L608.2,886.8 L608.6,901.7 L609.0,914.8 L609.4,928.7 L609.8,980.3 L610.2,1006.4 L610.6,1029.7 L611.0,1051.6 L611.4,1067.0 L611.8,1071.1 L612.2,1073.4 L612.6,1074.8 L613.0,1075.7 L613.4,1075.7 L613.8,1075.0 L614.2,1073.8 L614.6,1071.3 L615.0,1066.0 L615.4,1052.5 L615.8,1000.0 L616.2,954.0 L616.6,942.4 L617.0,933.3 L617.4,930.6 L617.8,933.4 L618.2,938.0 L618.6,945.3 L619.0,955.0 L619.4,966.1 L619.8,978.4 L620.2,991.2 L620.6,979.3 L621.0,961.2 L621.4,950.0 L621.8,940.4 L622.2,931.9 L622.6,923.1 L623.0,914.4 L623.4,904.5 L623.8,891.3 L624.2,875.0 L624.6,861.8 L625.0,851.7 L625.4,843.3 L625.8,834.8 L626.2,828.7 L626.6,831.1 L627.0,839.2 L627.4,847.2 L627.8,856.1 L628.2,868.1 L628.6,887.0 L629.0,907.9 L629.4,929.7 L629.8,951.9 L630.2,969.2 L630.6,975.0 L631.0,980.2 L631.4,979.5 L631.8,969.9 L632.2,960.7 L632.6,951.9 L633.0,944.5 L633.4,938.7 L633.8,934.2 L634.2,934.8 L634.6,938.0 L635.0,945.0 L635.4,959.8 L635.8,974.6 L636.2,981.9 L636.6,988.0 L637.0,994.5 L637.4,1002.2 L637.8,1012.9 L638.2,1022.5 L638.6,1030.5 L639.0,1037.1 L639.4,1042.9 L639.8,1048.0 L640.2,1052.3 L640.6,1056.2 L641.0,1060.0 L641.4,1064.2 L641.8,1068.0 L642.2,1071.0 L642.6,1073.6 L643.0,1075.9 L643.4,1078.0 L643.8,1080.0 L644.2,1081.9 L644.6,1083.5 L645.0,1085.0 L645.4,1086.3 L645.8,1087.5 L646.2,1088.6 L646.6,1089.6 L647.0,1090.5 L647.4,1091.1 L647.8,1091.5 L648.2,1091.7 L648.6,1091.9 L649.4,1092.2 L649.8,1092.4 L650.2,1092.6 L650.6,1093.0 L651.0,1093.9 L651.4,1094.9 L651.8,1095.9 L652.2,1096.7 L652.6,1097.2 L653.0,1097.8 L653.4,1098.2 L653.8,1098.6 L654.2,1098.8 L654.6,1098.9 L655.0,1098.5 L655.4,1097.9 L655.8,1097.1 L656.2,1096.4 L656.6,1096.0 L657.0,1096.0 L657.4,1096.5 L657.8,1097.4 L658.2,1098.5 L658.6,1099.5 L659.0,1100.4 L659.4,1100.9 L659.8,1101.3 L660.2,1101.8 L660.6,1102.1 L661.0,1102.5 L661.4,1102.9 L661.8,1103.2 L662.2,1103.6 L662.6,1104.1 L663.0,1104.6 L663.4,1105.0 L663.8,1105.3 L664.2,1104.8 L664.6,1101.4 L665.0,1096.7 L665.4,1089.9 L665.8,1081.6 L666.2,1074.8 L666.6,1070.8 L667.0,1069.8 L667.4,1073.2 L667.8,1078.5 L668.2,1083.4 L668.6,1088.9 L669.0,1093.7 L669.4,1097.5 L669.8,1101.0 L670.2,1103.8 L670.6,1105.8 L671.0,1107.5 L671.4,1109.0 L671.8,1110.2 L672.2,1111.2 L672.6,1112.1 L673.0,1112.9 L673.4,1113.6 L673.8,1114.2 L674.2,1114.8 L674.6,1115.3 L675.0,1115.8 L675.4,1116.2 L675.8,1116.6 L676.2,1117.0 L676.6,1117.4 L677.0,1117.7 L677.4,1118.0 L677.8,1118.3 L678.2,1118.6 L678.6,1118.8 L679.0,1119.0 L679.4,1119.2 L679.8,1119.3 L680.6,1119.6 L681.4,1119.5 L681.8,1119.1 L682.2,1118.7 L682.6,1118.1 L683.0,1117.5 L683.4,1116.5 L683.8,1114.9 L684.2,1112.8 L684.6,1110.5 L685.0,1107.7 L685.4,1104.2 L685.8,1100.1 L686.2,1095.5 L686.6,1089.9 L687.0,1083.9 L687.4,1077.9 L687.8,1071.9 L688.2,1068.4 L688.6,1065.9 L689.0,1064.8 L689.4,1067.5 L689.8,1072.8 L690.2,1078.1 L690.6,1084.0 L691.0,1089.7 L691.4,1094.5 L691.8,1099.0 L692.2,1102.1 L692.6,1104.1 L693.0,1105.7 L693.4,1106.3 L693.8,1105.8 L694.2,1104.6 L694.6,1103.0 L695.0,1101.0 L695.4,1097.6 L695.8,1093.8 L696.2,1090.9 L696.6,1089.0 L697.0,1087.3 L697.4,1085.9 L697.8,1084.9 L698.2,1084.4 L698.6,1083.9 L699.0,1083.5 L699.4,1083.2 L699.8,1082.9 L700.2,1082.7 L701.0,1082.6 L701.4,1083.0 L701.8,1083.6 L702.2,1084.3 L702.6,1085.2 L703.0,1086.2 L703.4,1087.3 L703.8,1088.7 L704.2,1090.5 L704.6,1092.2 L705.0,1093.7 L705.4,1095.0 L705.8,1096.2 L706.2,1097.3 L706.6,1098.4 L707.0,1099.3 L707.4,1100.1 L707.8,1100.8 L708.2,1101.5 L708.6,1102.1 L709.0,1102.7 L709.4,1103.3 L709.8,1104.0 L710.2,1104.6 L710.6,1105.2 L711.0,1105.8 L711.4,1106.4 L711.8,1107.0 L712.2,1107.6 L712.6,1108.2 L713.0,1108.8 L713.4,1109.4 L713.8,1110.0 L714.2,1110.6 L714.6,1111.2 L715.0,1111.8 L715.4,1112.3 L715.8,1112.8 L716.2,1113.4 L716.6,1113.9 L717.0,1114.4 L717.4,1114.9 L717.8,1115.3 L718.2,1115.7 L718.6,1116.1 L719.0,1116.5 L719.4,1116.8 L719.8,1117.1 L720.2,1117.5 L720.6,1117.8 L721.0,1118.0 L721.4,1118.3 L721.8,1118.5 L722.2,1118.6 L723.0,1118.9 L723.8,1119.2 L724.6,1119.4 L725.8,1119.6 L731.8,1119.6 L732.2,1119.5 L732.6,1119.2 L733.0,1118.7 L733.4,1118.2 L733.8,1117.7 L734.2,1117.3 L734.6,1116.8 L735.0,1116.3 L735.4,1116.1 L735.8,1116.4 L736.2,1117.0 L736.6,1117.8 L737.0,1118.5 L737.4,1118.9 L739.8,1118.7 L740.6,1118.5 L741.4,1118.3 L741.8,1118.2 L742.2,1117.9 L742.6,1117.6 L743.0,1117.2 L743.4,1116.8 L743.8,1116.4 L744.2,1116.2 L745.0,1115.9 L746.2,1115.8 L746.6,1116.3 L747.0,1117.2 L747.4,1118.0 L747.8,1118.6 L748.6,1118.7 L750.2,1118.9 L751.4,1118.9 L751.8,1118.7 L752.2,1118.3 L752.6,1117.6 L753.0,1116.9 L753.4,1116.2 L753.8,1115.6 L754.2,1114.8 L754.6,1114.2 L755.0,1114.0 L755.8,1114.1 L756.2,1114.4 L756.5,1114.7" transform="translate(-0.4,0)"/><use href="#cred" x="0.8"/></g>
<text transform="translate(77.70,1141.70) rotate(-90)" text-anchor="end" font-size="16.60" textLength="9.25" lengthAdjust="spacingAndGlyphs">1</text>
<text transform="translate(100.72,1141.70) rotate(-90)" text-anchor="end" font-size="16.60" textLength="27.75" lengthAdjust="spacingAndGlyphs">122</text>
<text transform="translate(123.74,1141.70) rotate(-90)" text-anchor="end" font-size="16.60" textLength="27.75" lengthAdjust="spacingAndGlyphs">243</text>
<text transform="translate(146.76,1141.70) rotate(-90)" text-anchor="end" font-size="16.60" textLength="27.75" lengthAdjust="spacingAndGlyphs">364</text>
<text transform="translate(169.78,1141.70) rotate(-90)" text-anchor="end" font-size="16.60" textLength="27.75" lengthAdjust="spacingAndGlyphs">485</text>
<text transform="translate(192.80,1141.70) rotate(-90)" text-anchor="end" font-size="16.60" textLength="27.75" lengthAdjust="spacingAndGlyphs">606</text>
<text transform="translate(215.82,1141.70) rotate(-90)" text-anchor="end" font-size="16.60" textLength="27.75" lengthAdjust="spacingAndGlyphs">727</text>
<text transform="translate(238.84,1141.70) rotate(-90)" text-anchor="end" font-size="16.60" textLength="27.75" lengthAdjust="spacingAndGlyphs">848</text>
<text transform="translate(261.86,1141.70) rotate(-90)" text-anchor="end" font-size="16.60" textLength="27.75" lengthAdjust="spacingAndGlyphs">969</text>
<text transform="translate(284.89,1141.70) rotate(-90)" text-anchor="end" font-size="16.60" textLength="37.00" lengthAdjust="spacingAndGlyphs">1090</text>
<text transform="translate(307.91,1141.70) rotate(-90)" text-anchor="end" font-size="16.60" textLength="37.00" lengthAdjust="spacingAndGlyphs">1211</text>
<text transform="translate(330.93,1141.70) rotate(-90)" text-anchor="end" font-size="16.60" textLength="37.00" lengthAdjust="spacingAndGlyphs">1332</text>
<text transform="translate(353.95,1141.70) rotate(-90)" text-anchor="end" font-size="16.60" textLength="37.00" lengthAdjust="spacingAndGlyphs">1453</text>
<text transform="translate(376.97,1141.70) rotate(-90)" text-anchor="end" font-size="16.60" textLength="37.00" lengthAdjust="spacingAndGlyphs">1574</text>
<text transform="translate(399.99,1141.70) rotate(-90)" text-anchor="end" font-size="16.60" textLength="37.00" lengthAdjust="spacingAndGlyphs">1695</text>
<text transform="translate(423.01,1141.70) rotate(-90)" text-anchor="end" font-size="16.60" textLength="37.00" lengthAdjust="spacingAndGlyphs">1816</text>
<text transform="translate(446.03,1141.70) rotate(-90)" text-anchor="end" font-size="16.60" textLength="37.00" lengthAdjust="spacingAndGlyphs">1937</text>
<text transform="translate(469.05,1141.70) rotate(-90)" text-anchor="end" font-size="16.60" textLength="37.00" lengthAdjust="spacingAndGlyphs">2058</text>
<text transform="translate(492.07,1141.70) rotate(-90)" text-anchor="end" font-size="16.60" textLength="37.00" lengthAdjust="spacingAndGlyphs">2179</text>
<text transform="translate(515.09,1141.70) rotate(-90)" text-anchor="end" font-size="16.60" textLength="37.00" lengthAdjust="spacingAndGlyphs">2300</text>
<text transform="translate(538.11,1141.70) rotate(-90)" text-anchor="end" font-size="16.60" textLength="37.00" lengthAdjust="spacingAndGlyphs">2421</text>
<text transform="translate(561.13,1141.70) rotate(-90)" text-anchor="end" font-size="16.60" textLength="37.00" lengthAdjust="spacingAndGlyphs">2542</text>
<text transform="translate(584.15,1141.70) rotate(-90)" text-anchor="end" font-size="16.60" textLength="37.00" lengthAdjust="spacingAndGlyphs">2663</text>
<text transform="translate(607.17,1141.70) rotate(-90)" text-anchor="end" font-size="16.60" textLength="37.00" lengthAdjust="spacingAndGlyphs">2784</text>
<text transform="translate(630.19,1141.70) rotate(-90)" text-anchor="end" font-size="16.60" textLength="37.00" lengthAdjust="spacingAndGlyphs">2905</text>
<text transform="translate(653.21,1141.70) rotate(-90)" text-anchor="end" font-size="16.60" textLength="37.00" lengthAdjust="spacingAndGlyphs">3026</text>
<text transform="translate(676.24,1141.70) rotate(-90)" text-anchor="end" font-size="16.60" textLength="37.00" lengthAdjust="spacingAndGlyphs">3147</text>
<text transform="translate(699.26,1141.70) rotate(-90)" text-anchor="end" font-size="16.60" textLength="37.00" lengthAdjust="spacingAndGlyphs">3268</text>
<text transform="translate(722.28,1141.70) rotate(-90)" text-anchor="end" font-size="16.60" textLength="37.00" lengthAdjust="spacingAndGlyphs">3389</text>
<text transform="translate(745.30,1141.70) rotate(-90)" text-anchor="end" font-size="16.60" textLength="37.00" lengthAdjust="spacingAndGlyphs">3510</text>
<line x1="103.15" x2="138.85" y1="872.90" y2="872.90" stroke="#BE4B48" stroke-width="4.50" stroke-linecap="round"/>
<text x="143.20" y="878.00" font-size="16.40" textLength="263.40" lengthAdjust="spacingAndGlyphs">Aged PLA film from IQOS cigarettes</text>
<line x1="103.15" x2="138.85" y1="923.60" y2="923.60" stroke="#4A7EBB" stroke-width="4.50" stroke-linecap="round"/>
<text x="143.20" y="928.80" font-size="16.40" textLength="221.10" lengthAdjust="spacingAndGlyphs">PLA film from IQOS cigarettes</text>
<text x="15.60" y="833.70" font-size="29.70" textLength="9.10" lengthAdjust="spacingAndGlyphs">(</text>
<text x="25.90" y="834.50" font-size="25.50" textLength="13.00" lengthAdjust="spacingAndGlyphs">c</text>
<text x="40.50" y="833.70" font-size="29.70" textLength="9.10" lengthAdjust="spacingAndGlyphs">)</text>
<text transform="translate(39.60,1010.80) rotate(-90)" font-size="19.00" textLength="97.90" lengthAdjust="spacingAndGlyphs">Absorbance</text>
<text x="325.01" y="1203.30" font-size="17.50" textLength="110.69" lengthAdjust="spacingAndGlyphs">Wavenumber</text>
<line x1="441.57" y1="1205.85" x2="449.22" y2="1189.23" stroke="#000" stroke-width="1.50"/>
<text x="454.31" y="1203.30" font-size="17.50" textLength="25.04" lengthAdjust="spacingAndGlyphs">cm</text>
<text x="479.58" y="1198.65" font-size="12.51" textLength="13.74" lengthAdjust="spacingAndGlyphs">−1</text>
</svg>
</body></html>
